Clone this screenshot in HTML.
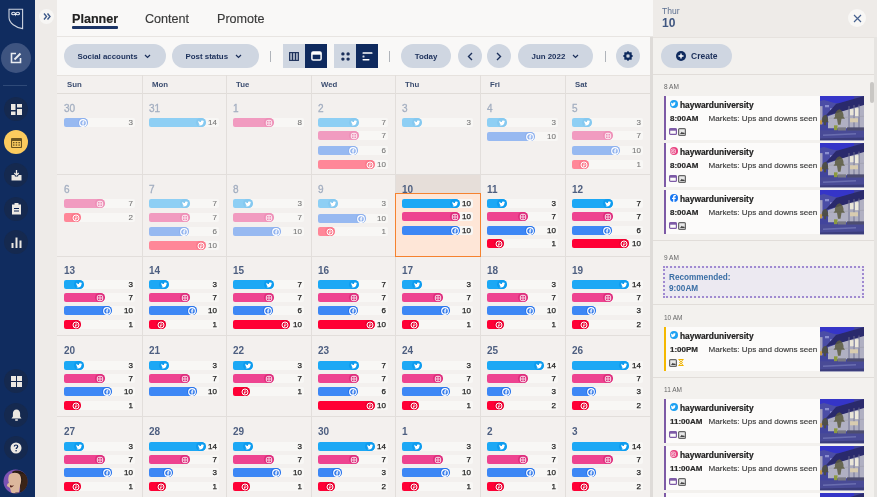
<!DOCTYPE html>
<html><head><meta charset="utf-8">
<style>
*{margin:0;padding:0;box-sizing:border-box}
html,body{width:877px;height:497px;overflow:hidden;background:#f3f0ee;font-family:"Liberation Sans",sans-serif}
.abs{position:absolute}
#side{position:absolute;left:0;top:0;width:35px;height:497px;background:#102c5f}
.sbtn{position:absolute;left:4px;width:24px;height:24px;border-radius:50%;background:#15294f;display:flex;align-items:center;justify-content:center}
#strip{position:absolute;left:35px;top:0;width:22px;height:497px;background:#eeebe8}
#hdr{position:absolute;left:57px;top:0;width:596px;height:37px;background:#f9f8f7;border-bottom:1px solid #e8e5e2}
.tab{position:absolute;top:12px;font-size:12.6px;color:#3a3a3a;letter-spacing:0;-webkit-text-stroke:0.15px currentColor}
#tb{position:absolute;left:57px;top:37px;width:593px;height:38px;background:#f9f8f7}
.pill{position:absolute;top:44px;height:24px;border-radius:12px;background:#cfd6e1;color:#1b2f5a;font-weight:bold;font-size:7.9px;display:flex;align-items:center;justify-content:center}
.sep{position:absolute;top:51px;width:1px;height:11px;background:#b0b4ba}
.tg{position:absolute;top:44px;width:22px;height:24px;background:#cfd6e1;display:flex;align-items:center;justify-content:center}
.tg.on{background:#0f2a5e}
#days{position:absolute;left:57px;top:75px;width:593px;height:19px;background:#f3f0ee;border-top:1px solid #e6e2de;border-bottom:1px solid #e0dcd8}
.dh{position:absolute;top:3.5px;font-size:7.8px;font-weight:bold;color:#3b4d70}
#grid{position:absolute;left:0;top:0}
.vl{position:absolute;top:75px;width:1px;height:422px;background:#e2dedb}
.hl{position:absolute;left:57px;width:593px;height:1px;background:#e2dedb}
.dn{position:absolute;font-size:10px;font-weight:bold;color:#4e5f80;line-height:10px}
.dn.past{color:#a3aec0;font-weight:normal;-webkit-text-stroke:0.3px currentColor}
.trk{position:absolute;height:9px;border-radius:2px;background:#f8f7f5}
.bar{position:absolute;height:9px;border-radius:2px 4.5px 4.5px 2px;overflow:hidden}
.bi{position:absolute;right:0;top:0;width:10px;height:9px;border-radius:5px;display:flex;align-items:center;justify-content:center}
.bi svg{display:block}
.cnt{position:absolute;text-align:right;font-size:8px;line-height:9px;color:#222;-webkit-text-stroke:0.25px currentColor}
.cnt.past{color:#777;-webkit-text-stroke:0.1px currentColor}
#pdiv{position:absolute;left:650px;top:37px;width:3px;height:460px;background:#dedbd8}
#panel{position:absolute;left:653px;top:0;width:224px;height:497px;background:#f3f1ee}
#phdr{position:absolute;left:653px;top:0;width:224px;height:37px;background:#eeebe8}
.line{position:absolute;height:1px;background:#e1ddd9}
.tlab{position:absolute;left:664px;font-size:6.5px;color:#666;line-height:8px}
.card{position:absolute;left:664px;width:200px;height:44px;background:#fcfbfa;border-left:2px solid #7d5aa6}
.card .nm{position:absolute;left:14px;top:3.5px;font-size:8.4px;font-weight:bold;color:#222;-webkit-text-stroke:0.2px #222}
.card .ci{position:absolute;left:3.5px;top:4.2px;width:8px;height:8px;border-radius:50%}
.card .tm{position:absolute;left:4px;top:18px;font-size:8px;font-weight:bold;color:#2a2a2a;-webkit-text-stroke:0.2px #2a2a2a}
.card .tx{position:absolute;left:41.5px;top:18px;font-size:8.1px;color:#3a3a3a;-webkit-text-stroke:0.15px #3a3a3a}
.card .im{position:absolute;right:0;top:0;width:44px;height:44.5px}
</style></head><body><div id="root" style="position:absolute;left:0;top:0;width:877px;height:497px;overflow:hidden;will-change:transform">
<svg width="0" height="0" style="position:absolute"><defs>
<symbol id="photo" viewBox="0 0 44 44">
<filter id="bl"><feGaussianBlur stdDeviation="0.55"/></filter>
<g filter="url(#bl)">
<rect width="44" height="44" fill="#42449c"/>
<rect width="34" height="7" fill="#3436c8"/>
<path d="M0 5L4 4 18 8 18 20 0 24z" fill="#4c4ea6"/>
<path d="M5 9h4v2H5zM10 12h4v2h-4z" fill="#8a8ed0"/>
<path d="M0 10h2.5v18H0z" fill="#a8a4c0"/>
<path d="M8 20L44 7 44 32 8 32z" fill="#b0b0c2"/>
<path d="M5 20L16 8 44 0 44 9z" fill="#2c2a6c"/>
<path d="M29 10v22M34 9v23M39 8.5v23.5" stroke="#6e7090" stroke-width="0.9"/>
<path d="M9 22L44 20" stroke="#9c9caa" stroke-width="0.6"/>
<rect x="30" y="13" width="3.5" height="6" fill="#eae6d8"/>
<rect x="35" y="12" width="3.5" height="8" fill="#eeeadc"/>
<rect x="30" y="22" width="8" height="4" fill="#d8ccb0"/>
<path d="M19.5 13c-3 1-5 4-4.5 7.5l-1.5 2 3.5 0 1 6h2.5l1-6 3.5 0-1.5-2c.5-3.500-1.500-6.500-4-7.500z" fill="#5a5a40" opacity=".85"/>
<path d="M5.5 18.5c-3 1-4 4-3.500 6.500l-1 1 3 0v3h2v-3l3 0-1-1c.5-2.500-.5-5.500-2.500-6.500z" fill="#50503a" opacity=".85"/>
<rect x="0" y="24" width="2" height="4" fill="#c49a48"/>
<rect x="14" y="29" width="3.5" height="5" fill="#8c9a40"/>
<rect x="18" y="31" width="8" height="5" fill="#7a7a84"/>
<rect x="27" y="31" width="17" height="5" fill="#4e4e70"/>
<path d="M0 34L44 34 44 44 0 44z" fill="#4a4c96"/>
<path d="M3 38L36 36.5 36 38 3 39.5z" fill="#6a6eb0"/>
<path d="M0 42L44 41 44 44 0 44z" fill="#3a3c7c"/>
</g>
</symbol></defs></svg>
<div id="side">
  <svg class="abs" style="left:0;top:0" width="35" height="35" viewBox="0 0 35 35"><path d="M9 9.2H22.6V28.6C15.5 27.5 9.2 23 9 17.5Z" fill="none" stroke="#cdd3df" stroke-width="1.1"/><path d="M15.6 13.6c-1-1.6-3.8-1.8-3.9 0 .1 1.7 2.9 1.5 3.9 0zM15.6 13.6c1-1.6 3.8-1.8 3.9 0-.1 1.7-2.9 1.5-3.9 0z" fill="none" stroke="#e4e8f0" stroke-width="1.1"/><path d="M14.7 13.8h1.8l-.9 2.6z" fill="#f0f2f6"/></svg>
  <div class="abs" style="left:1px;top:43px;width:30px;height:30px;border-radius:50%;background:#3e5480"></div>
  <svg class="abs" style="left:10px;top:52px" width="12" height="12" viewBox="0 0 12 12"><path d="M6 1.5H1.5v9h9V6" fill="none" stroke="#e8ebf0" stroke-width="1.6"/><path d="M4.5 7.5L10.5 1.5" stroke="#e8ebf0" stroke-width="2"/></svg>
  <div class="abs" style="left:3px;top:85px;width:24px;height:1px;background:#2f4a78"></div>
  <div class="sbtn" style="top:97px"><svg width="11" height="11" viewBox="0 0 11 11"><rect x="0" y="0" width="4.5" height="6" fill="#ece8e2"/><rect x="6" y="0" width="5" height="3.5" fill="#ece8e2"/><rect x="0" y="7.5" width="4.5" height="3.5" fill="#ece8e2"/><rect x="6" y="5" width="5" height="6" fill="#ece8e2"/></svg></div>
  <div class="sbtn" style="top:130px;background:#fccb5e"><svg width="11" height="11" viewBox="0 0 11 11"><rect x="0.5" y="1.5" width="10" height="9" rx="1" fill="none" stroke="#6a5320" stroke-width="1.2"/><rect x="0.5" y="1.5" width="10" height="2.5" fill="#6a5320"/><g fill="#6a5320"><rect x="2" y="5" width="1.5" height="1.3"/><rect x="4.7" y="5" width="1.5" height="1.3"/><rect x="7.4" y="5" width="1.5" height="1.3"/><rect x="2" y="7.4" width="1.5" height="1.3"/><rect x="4.7" y="7.4" width="1.5" height="1.3"/><rect x="7.4" y="7.4" width="1.5" height="1.3"/></g></svg></div>
  <div class="sbtn" style="top:163px"><svg width="11" height="11" viewBox="0 0 11 11"><path d="M0.5 5v5.5h10V5h-3l-.5 1.5h-3L3.5 5z" fill="#ece8e2"/><path d="M5.5 0v5M3.3 3l2.2 2.2L7.7 3" fill="none" stroke="#ece8e2" stroke-width="1.3"/></svg></div>
  <div class="sbtn" style="top:197px"><svg width="11" height="12" viewBox="0 0 11 12"><rect x="1" y="1.5" width="9" height="10" fill="#ece8e2"/><rect x="3.5" y="0" width="4" height="2.5" fill="#ece8e2"/><rect x="3" y="5" width="5" height="1" fill="#0a2253"/><rect x="3" y="7.5" width="5" height="1" fill="#0a2253"/></svg></div>
  <div class="sbtn" style="top:230px"><svg width="11" height="11" viewBox="0 0 11 11"><rect x="0.5" y="6" width="2" height="5" fill="#ece8e2"/><rect x="4.5" y="0.5" width="2" height="10.5" fill="#ece8e2"/><rect x="8.5" y="3.5" width="2" height="7.5" fill="#ece8e2"/></svg></div>
  <div class="sbtn" style="top:369px"><svg width="11" height="11" viewBox="0 0 11 11"><rect x="0" y="0" width="5" height="5" fill="#ece8e2"/><rect x="6" y="0" width="5" height="5" fill="#ece8e2"/><rect x="0" y="6" width="5" height="5" fill="#ece8e2"/><rect x="6" y="6" width="5" height="5" fill="#ece8e2"/></svg></div>
  <div class="sbtn" style="top:403px"><svg width="11" height="12" viewBox="0 0 11 12"><path d="M5.5 0.5c-2.3 0-3.6 1.8-3.6 4v3L.5 9.5h10L9.1 7.5v-3c0-2.2-1.3-4-3.6-4z" fill="#ece8e2"/><rect x="4" y="10.3" width="3" height="1.5" rx=".7" fill="#ece8e2"/></svg></div>
  <div class="sbtn" style="top:436px"><svg width="12" height="12" viewBox="0 0 12 12"><circle cx="6" cy="6" r="5.5" fill="#ece8e2"/><path d="M4.3 4.6c0-1 .8-1.6 1.7-1.6s1.7.6 1.7 1.5c0 1.2-1.5 1.2-1.5 2.5" fill="none" stroke="#0a2253" stroke-width="1.2"/><circle cx="6.1" cy="8.8" r=".8" fill="#0a2253"/></svg></div>
  <svg class="abs" style="left:3px;top:469px" width="25" height="25" viewBox="0 0 25 25"><defs><clipPath id="av"><circle cx="12.5" cy="12.5" r="12"/></clipPath></defs><g clip-path="url(#av)"><rect width="25" height="25" fill="#7c52b4"/><path d="M9 3C14 0 22 2 25 8V25H16c1-3 2-5 1-8z" fill="#2a1c14"/><path d="M6 6c3-3 9-3 11 0 2 4 1 8 0 11l-1 6c-2 2-6 2-8 0l-1-4-3-2c0-2 1-3 2-3-1-2-1-5 0-8z" fill="#dcb79c"/><path d="M7 16c1 1 3 1 4 0-1 2-3 3-4 2z" fill="#5a2820"/><path d="M17 6c2 1 3 4 2 7-1 2-2 4-2 6l3 6h5V10C24 6 21 4 17 5z" fill="#3a2418"/><path d="M10 25c2-2 6-2 8 0z" fill="#3a2a4a"/></g></svg>
</div>
<div id="strip">
  <div class="abs" style="left:4px;top:9px;width:15px;height:15px;border-radius:50%;background:#f7f6f4;display:flex;align-items:center;justify-content:center"><svg width="8" height="7" viewBox="0 0 8 7"><path d="M1 .5L3.5 3.5 1 6.5M4.5 .5L7 3.5 4.5 6.5" fill="none" stroke="#3d5a8a" stroke-width="1.4"/></svg></div>
</div>
<div id="hdr">
  <div class="tab" style="left:15px;font-weight:bold;color:#222">Planner</div>
  <div class="abs" style="left:15px;top:26px;width:46px;height:2.5px;background:#1b3466;border-radius:1px"></div>
  <div class="tab" style="left:88px">Content</div>
  <div class="tab" style="left:160px">Promote</div>
</div>
<div id="tb"></div>
<div class="pill" style="left:64px;width:102px;justify-content:flex-start;padding-left:13.5px">Social accounts&nbsp;&nbsp;&nbsp;<svg width="7" height="5" viewBox="0 0 7 5"><path d="M1 1l2.5 2.5L6 1" fill="none" stroke="#1b2f5a" stroke-width="1.2"/></svg></div>
<div class="pill" style="left:172px;width:87px;justify-content:flex-start;padding-left:13.5px">Post status&nbsp;&nbsp;&nbsp;<svg width="7" height="5" viewBox="0 0 7 5"><path d="M1 1l2.5 2.5L6 1" fill="none" stroke="#1b2f5a" stroke-width="1.2"/></svg></div>
<div class="sep" style="left:270px"></div>
<div class="tg" style="left:283px;border-radius:0"><svg width="10" height="9" viewBox="0 0 10 9"><rect x=".6" y=".6" width="8.8" height="7.8" fill="none" stroke="#1b2f5a" stroke-width="1.1"/><path d="M3.5 .6v7.8M6.5 .6v7.8" stroke="#1b2f5a" stroke-width="1"/><rect x="1" y="1" width="8" height="7" fill="#1b2f5a" opacity=".25"/></svg></div>
<div class="tg on" style="left:305px"><svg width="11" height="10" viewBox="0 0 11 10"><rect x=".9" y=".9" width="9.2" height="8.2" rx="1.3" fill="none" stroke="#fff" stroke-width="1.5"/><rect x=".9" y=".9" width="9.2" height="2.8" fill="#fff"/></svg></div>
<div class="tg" style="left:334px"><svg width="9" height="9" viewBox="0 0 9 9"><g fill="#1b2f5a"><circle cx="1.9" cy="1.9" r="1.7"/><circle cx="7.1" cy="1.9" r="1.7"/><circle cx="1.9" cy="7.1" r="1.7"/><circle cx="7.1" cy="7.1" r="1.7"/></g></svg></div>
<div class="tg on" style="left:356px"><svg width="11" height="9" viewBox="0 0 11 9"><g fill="#fff"><rect x="0.5" y="0.3" width="10" height="1.5" rx=".6"/><rect x="0.5" y="3.5" width="2" height="2" rx=".5" opacity=".8"/><rect x="0.5" y="6.9" width="7" height="1.5" rx=".6"/></g></svg></div>
<div class="sep" style="left:389px"></div>
<div class="pill" style="left:401px;width:50px">Today</div>
<div class="pill" style="left:458px;width:24px"><svg width="6" height="9" viewBox="0 0 6 9"><path d="M5 1L1.5 4.5 5 8" fill="none" stroke="#1b2f5a" stroke-width="1.4"/></svg></div>
<div class="pill" style="left:487px;width:24px"><svg width="6" height="9" viewBox="0 0 6 9"><path d="M1 1l3.5 3.5L1 8" fill="none" stroke="#1b2f5a" stroke-width="1.4"/></svg></div>
<div class="pill" style="left:518px;width:75px;justify-content:flex-start;padding-left:13.5px">Jun 2022&nbsp;&nbsp;&nbsp;<svg width="7" height="5" viewBox="0 0 7 5"><path d="M1 1l2.5 2.5L6 1" fill="none" stroke="#1b2f5a" stroke-width="1.2"/></svg></div>
<div class="sep" style="left:605px"></div>
<div class="pill" style="left:616px;width:24px"><svg width="12" height="12" viewBox="0 0 24 24"><path fill="#0f2a5e" fill-rule="evenodd" stroke="#0f2a5e" stroke-width="1" stroke-linejoin="round" d="M12.00 2.40L14.83 5.16L18.79 5.21L18.84 9.17L21.60 12.00L18.84 14.83L18.79 18.79L14.83 18.84L12.00 21.60L9.17 18.84L5.21 18.79L5.16 14.83L2.40 12.00L5.16 9.17L5.21 5.21L9.17 5.16Z M12 8a4 4 0 1 0 0 8a4 4 0 1 0 0-8z"/></svg></div>
<div id="days">
  <div class="dh" style="left:10px">Sun</div>
  <div class="dh" style="left:95px">Mon</div>
  <div class="dh" style="left:179px">Tue</div>
  <div class="dh" style="left:264px">Wed</div>
  <div class="dh" style="left:348px">Thu</div>
  <div class="dh" style="left:433px">Fri</div>
  <div class="dh" style="left:518px">Sat</div>
</div>
<div id="grid">
<div class="vl" style="left:142px"></div>
<div class="vl" style="left:226px"></div>
<div class="vl" style="left:311px"></div>
<div class="vl" style="left:395px"></div>
<div class="vl" style="left:480px"></div>
<div class="vl" style="left:565px"></div>
<div class="hl" style="top:174px"></div>
<div class="hl" style="top:256px"></div>
<div class="hl" style="top:335px"></div>
<div class="hl" style="top:416px"></div>
<div class="dn past" style="left:64px;top:103.6px">30</div>
<div class="trk" style="left:64px;top:118px;width:71px"></div>
<div class="bar" style="left:64px;top:118px;width:24px;background:#97b9f1"><span class="bi" style="background:#8db0ee"><svg width="8" height="8" viewBox="0 0 24 24"><circle cx="12" cy="12" r="10" fill="none" stroke="#fff" stroke-width="3.4"/><path d="M13.6 21V13.4h2.4l.4-2.8h-2.8V8.9c0-.8.3-1.4 1.4-1.4h1.5V5c-.3 0-1.2-.1-2.2-.1-2.200 0-3.600 1.300-3.600 3.700v2H8.300v2.800h2.400V21z" fill="#fff"/></svg></span></div>
<div class="cnt past" style="left:64px;top:118px;width:69px">3</div>
<div class="dn past" style="left:149px;top:103.6px">31</div>
<div class="trk" style="left:149px;top:118px;width:70px"></div>
<div class="bar" style="left:149px;top:118px;width:57px;background:#8ecff4"><span class="bi" style="background:#86c9f0"><svg width="8" height="8" viewBox="-3 -3 30 30"><path d="M23.6 4.9c-.8.4-1.7.6-2.7.7 1-.6 1.7-1.5 2-2.6-.9.5-1.9.9-3 1.1-.9-.9-2.1-1.5-3.4-1.5-2.6 0-4.7 2.1-4.7 4.7 0 .4 0 .7.1 1.1C8.1 8.2 4.7 6.3 2.4 3.5c-.4.7-.6 1.5-.6 2.3 0 1.6.8 3 2.1 3.9-.8 0-1.5-.2-2.1-.6v.1c0 2.3 1.6 4.1 3.7 4.6-.4.1-.8.2-1.2.2-.3 0-.6 0-.9-.1.6 1.8 2.3 3.2 4.4 3.2-1.6 1.3-3.6 2-5.8 2-.4 0-.7 0-1.1-.1 2.1 1.3 4.5 2.1 7.1 2.1 8.6 0 13.3-7.1 13.3-13.3v-.6c.9-.7 1.7-1.5 2.3-2.4z" fill="#fff"/></svg></span></div>
<div class="cnt past" style="left:149px;top:118px;width:68px">14</div>
<div class="dn past" style="left:233px;top:103.6px">1</div>
<div class="trk" style="left:233px;top:118px;width:71px"></div>
<div class="bar" style="left:233px;top:118px;width:41px;background:#f19bc0"><span class="bi" style="background:#ee8fb7"><svg width="8" height="8" viewBox="0 0 24 24"><rect x="4" y="4" width="16" height="16" rx="4.5" fill="none" stroke="#fff" stroke-width="2.6"/><circle cx="12" cy="12" r="3.6" fill="none" stroke="#fff" stroke-width="2.4"/></svg></span></div>
<div class="cnt past" style="left:233px;top:118px;width:69px">8</div>
<div class="dn past" style="left:318px;top:103.6px">2</div>
<div class="trk" style="left:318px;top:118px;width:70px"></div>
<div class="bar" style="left:318px;top:118px;width:41px;background:#8ecff4"><span class="bi" style="background:#86c9f0"><svg width="8" height="8" viewBox="-3 -3 30 30"><path d="M23.6 4.9c-.8.4-1.7.6-2.7.7 1-.6 1.7-1.5 2-2.6-.9.5-1.9.9-3 1.1-.9-.9-2.1-1.5-3.4-1.5-2.6 0-4.7 2.1-4.7 4.7 0 .4 0 .7.1 1.1C8.1 8.2 4.7 6.3 2.4 3.5c-.4.7-.6 1.5-.6 2.3 0 1.6.8 3 2.1 3.9-.8 0-1.5-.2-2.1-.6v.1c0 2.3 1.6 4.1 3.7 4.6-.4.1-.8.2-1.2.2-.3 0-.6 0-.9-.1.6 1.8 2.3 3.2 4.4 3.2-1.6 1.3-3.6 2-5.8 2-.4 0-.7 0-1.1-.1 2.1 1.3 4.5 2.1 7.1 2.1 8.6 0 13.3-7.1 13.3-13.3v-.6c.9-.7 1.7-1.5 2.3-2.4z" fill="#fff"/></svg></span></div>
<div class="cnt past" style="left:318px;top:118px;width:68px">7</div>
<div class="trk" style="left:318px;top:131px;width:70px"></div>
<div class="bar" style="left:318px;top:131px;width:41px;background:#f19bc0"><span class="bi" style="background:#ee8fb7"><svg width="8" height="8" viewBox="0 0 24 24"><rect x="4" y="4" width="16" height="16" rx="4.5" fill="none" stroke="#fff" stroke-width="2.6"/><circle cx="12" cy="12" r="3.6" fill="none" stroke="#fff" stroke-width="2.4"/></svg></span></div>
<div class="cnt past" style="left:318px;top:131px;width:68px">7</div>
<div class="trk" style="left:318px;top:146px;width:70px"></div>
<div class="bar" style="left:318px;top:146px;width:40px;background:#97b9f1"><span class="bi" style="background:#8db0ee"><svg width="8" height="8" viewBox="0 0 24 24"><circle cx="12" cy="12" r="10" fill="none" stroke="#fff" stroke-width="3.4"/><path d="M13.6 21V13.4h2.4l.4-2.8h-2.8V8.9c0-.8.3-1.4 1.4-1.4h1.5V5c-.3 0-1.2-.1-2.2-.1-2.200 0-3.600 1.300-3.600 3.700v2H8.300v2.800h2.400V21z" fill="#fff"/></svg></span></div>
<div class="cnt past" style="left:318px;top:146px;width:68px">6</div>
<div class="trk" style="left:318px;top:160px;width:70px"></div>
<div class="bar" style="left:318px;top:160px;width:57px;background:#ff8798"><span class="bi" style="background:#fb7a8c"><svg width="8" height="8" viewBox="0 0 24 24"><circle cx="12" cy="12" r="9" fill="none" stroke="#fff" stroke-width="3"/><path d="M10.5 8.5c3-.8 5 .6 5 2.600 0 2.300-2 3.600-4 2.800M11.3 10.5l-2 8" fill="none" stroke="#fff" stroke-width="2.4"/></svg></span></div>
<div class="cnt past" style="left:318px;top:160px;width:68px">10</div>
<div class="dn past" style="left:402px;top:103.6px">3</div>
<div class="trk" style="left:402px;top:118px;width:71px"></div>
<div class="bar" style="left:402px;top:118px;width:20px;background:#8ecff4"><span class="bi" style="background:#86c9f0"><svg width="8" height="8" viewBox="-3 -3 30 30"><path d="M23.6 4.9c-.8.4-1.7.6-2.7.7 1-.6 1.7-1.5 2-2.6-.9.5-1.9.9-3 1.1-.9-.9-2.1-1.5-3.4-1.5-2.6 0-4.7 2.1-4.7 4.7 0 .4 0 .7.1 1.1C8.1 8.2 4.7 6.3 2.4 3.5c-.4.7-.6 1.5-.6 2.3 0 1.6.8 3 2.1 3.9-.8 0-1.5-.2-2.1-.6v.1c0 2.3 1.6 4.1 3.7 4.6-.4.1-.8.2-1.2.2-.3 0-.6 0-.9-.1.6 1.8 2.3 3.2 4.4 3.2-1.6 1.3-3.6 2-5.8 2-.4 0-.7 0-1.1-.1 2.1 1.3 4.5 2.1 7.1 2.1 8.6 0 13.3-7.1 13.3-13.3v-.6c.9-.7 1.7-1.5 2.3-2.4z" fill="#fff"/></svg></span></div>
<div class="cnt past" style="left:402px;top:118px;width:69px">3</div>
<div class="dn past" style="left:487px;top:103.6px">4</div>
<div class="trk" style="left:487px;top:118px;width:71px"></div>
<div class="bar" style="left:487px;top:118px;width:20px;background:#8ecff4"><span class="bi" style="background:#86c9f0"><svg width="8" height="8" viewBox="-3 -3 30 30"><path d="M23.6 4.9c-.8.4-1.7.6-2.7.7 1-.6 1.7-1.5 2-2.6-.9.5-1.9.9-3 1.1-.9-.9-2.1-1.5-3.4-1.5-2.6 0-4.7 2.1-4.7 4.7 0 .4 0 .7.1 1.1C8.1 8.2 4.7 6.3 2.4 3.5c-.4.7-.6 1.5-.6 2.3 0 1.6.8 3 2.1 3.9-.8 0-1.5-.2-2.1-.6v.1c0 2.3 1.6 4.1 3.7 4.6-.4.1-.8.2-1.2.2-.3 0-.6 0-.9-.1.6 1.8 2.3 3.2 4.4 3.2-1.6 1.3-3.6 2-5.8 2-.4 0-.7 0-1.1-.1 2.1 1.3 4.5 2.1 7.1 2.1 8.6 0 13.3-7.1 13.3-13.3v-.6c.9-.7 1.7-1.5 2.3-2.4z" fill="#fff"/></svg></span></div>
<div class="cnt past" style="left:487px;top:118px;width:69px">3</div>
<div class="trk" style="left:487px;top:132px;width:71px"></div>
<div class="bar" style="left:487px;top:132px;width:48px;background:#97b9f1"><span class="bi" style="background:#8db0ee"><svg width="8" height="8" viewBox="0 0 24 24"><circle cx="12" cy="12" r="10" fill="none" stroke="#fff" stroke-width="3.4"/><path d="M13.6 21V13.4h2.4l.4-2.8h-2.8V8.9c0-.8.3-1.4 1.4-1.4h1.5V5c-.3 0-1.2-.1-2.2-.1-2.200 0-3.600 1.300-3.600 3.700v2H8.300v2.800h2.400V21z" fill="#fff"/></svg></span></div>
<div class="cnt past" style="left:487px;top:132px;width:69px">10</div>
<div class="dn past" style="left:572px;top:103.6px">5</div>
<div class="trk" style="left:572px;top:118px;width:71px"></div>
<div class="bar" style="left:572px;top:118px;width:20px;background:#8ecff4"><span class="bi" style="background:#86c9f0"><svg width="8" height="8" viewBox="-3 -3 30 30"><path d="M23.6 4.9c-.8.4-1.7.6-2.7.7 1-.6 1.7-1.5 2-2.6-.9.5-1.9.9-3 1.1-.9-.9-2.1-1.5-3.4-1.5-2.6 0-4.7 2.1-4.7 4.7 0 .4 0 .7.1 1.1C8.1 8.2 4.7 6.3 2.4 3.5c-.4.7-.6 1.5-.6 2.3 0 1.6.8 3 2.1 3.9-.8 0-1.5-.2-2.1-.6v.1c0 2.3 1.6 4.1 3.7 4.6-.4.1-.8.2-1.2.2-.3 0-.6 0-.9-.1.6 1.8 2.3 3.2 4.4 3.2-1.6 1.3-3.6 2-5.8 2-.4 0-.7 0-1.1-.1 2.1 1.3 4.5 2.1 7.1 2.1 8.6 0 13.3-7.1 13.3-13.3v-.6c.9-.7 1.7-1.5 2.3-2.4z" fill="#fff"/></svg></span></div>
<div class="cnt past" style="left:572px;top:118px;width:69px">3</div>
<div class="trk" style="left:572px;top:131px;width:71px"></div>
<div class="bar" style="left:572px;top:131px;width:41px;background:#f19bc0"><span class="bi" style="background:#ee8fb7"><svg width="8" height="8" viewBox="0 0 24 24"><rect x="4" y="4" width="16" height="16" rx="4.5" fill="none" stroke="#fff" stroke-width="2.6"/><circle cx="12" cy="12" r="3.6" fill="none" stroke="#fff" stroke-width="2.4"/></svg></span></div>
<div class="cnt past" style="left:572px;top:131px;width:69px">7</div>
<div class="trk" style="left:572px;top:146px;width:71px"></div>
<div class="bar" style="left:572px;top:146px;width:48px;background:#97b9f1"><span class="bi" style="background:#8db0ee"><svg width="8" height="8" viewBox="0 0 24 24"><circle cx="12" cy="12" r="10" fill="none" stroke="#fff" stroke-width="3.4"/><path d="M13.6 21V13.4h2.4l.4-2.8h-2.8V8.9c0-.8.3-1.4 1.4-1.4h1.5V5c-.3 0-1.2-.1-2.2-.1-2.200 0-3.600 1.300-3.600 3.700v2H8.300v2.800h2.400V21z" fill="#fff"/></svg></span></div>
<div class="cnt past" style="left:572px;top:146px;width:69px">10</div>
<div class="trk" style="left:572px;top:160px;width:71px"></div>
<div class="bar" style="left:572px;top:160px;width:17px;background:#ff8798"><span class="bi" style="background:#fb7a8c"><svg width="8" height="8" viewBox="0 0 24 24"><circle cx="12" cy="12" r="9" fill="none" stroke="#fff" stroke-width="3"/><path d="M10.5 8.5c3-.8 5 .6 5 2.600 0 2.300-2 3.600-4 2.800M11.3 10.5l-2 8" fill="none" stroke="#fff" stroke-width="2.4"/></svg></span></div>
<div class="cnt past" style="left:572px;top:160px;width:69px">1</div>
<div class="dn past" style="left:64px;top:184.6px">6</div>
<div class="trk" style="left:64px;top:199px;width:71px"></div>
<div class="bar" style="left:64px;top:199px;width:41px;background:#f19bc0"><span class="bi" style="background:#ee8fb7"><svg width="8" height="8" viewBox="0 0 24 24"><rect x="4" y="4" width="16" height="16" rx="4.5" fill="none" stroke="#fff" stroke-width="2.6"/><circle cx="12" cy="12" r="3.6" fill="none" stroke="#fff" stroke-width="2.4"/></svg></span></div>
<div class="cnt past" style="left:64px;top:199px;width:69px">7</div>
<div class="trk" style="left:64px;top:213px;width:71px"></div>
<div class="bar" style="left:64px;top:213px;width:17px;background:#ff8798"><span class="bi" style="background:#fb7a8c"><svg width="8" height="8" viewBox="0 0 24 24"><circle cx="12" cy="12" r="9" fill="none" stroke="#fff" stroke-width="3"/><path d="M10.5 8.5c3-.8 5 .6 5 2.600 0 2.300-2 3.600-4 2.800M11.3 10.5l-2 8" fill="none" stroke="#fff" stroke-width="2.4"/></svg></span></div>
<div class="cnt past" style="left:64px;top:213px;width:69px">2</div>
<div class="dn past" style="left:149px;top:184.6px">7</div>
<div class="trk" style="left:149px;top:199px;width:70px"></div>
<div class="bar" style="left:149px;top:199px;width:41px;background:#8ecff4"><span class="bi" style="background:#86c9f0"><svg width="8" height="8" viewBox="-3 -3 30 30"><path d="M23.6 4.9c-.8.4-1.7.6-2.7.7 1-.6 1.7-1.5 2-2.6-.9.5-1.9.9-3 1.1-.9-.9-2.1-1.5-3.4-1.5-2.6 0-4.7 2.1-4.7 4.7 0 .4 0 .7.1 1.1C8.1 8.2 4.7 6.3 2.4 3.5c-.4.7-.6 1.5-.6 2.3 0 1.6.8 3 2.1 3.9-.8 0-1.5-.2-2.1-.6v.1c0 2.3 1.6 4.1 3.7 4.6-.4.1-.8.2-1.2.2-.3 0-.6 0-.9-.1.6 1.8 2.3 3.2 4.4 3.2-1.6 1.3-3.6 2-5.8 2-.4 0-.7 0-1.1-.1 2.1 1.3 4.5 2.1 7.1 2.1 8.6 0 13.3-7.1 13.3-13.3v-.6c.9-.7 1.7-1.5 2.3-2.4z" fill="#fff"/></svg></span></div>
<div class="cnt past" style="left:149px;top:199px;width:68px">7</div>
<div class="trk" style="left:149px;top:213px;width:70px"></div>
<div class="bar" style="left:149px;top:213px;width:41px;background:#f19bc0"><span class="bi" style="background:#ee8fb7"><svg width="8" height="8" viewBox="0 0 24 24"><rect x="4" y="4" width="16" height="16" rx="4.5" fill="none" stroke="#fff" stroke-width="2.6"/><circle cx="12" cy="12" r="3.6" fill="none" stroke="#fff" stroke-width="2.4"/></svg></span></div>
<div class="cnt past" style="left:149px;top:213px;width:68px">7</div>
<div class="trk" style="left:149px;top:227px;width:70px"></div>
<div class="bar" style="left:149px;top:227px;width:40px;background:#97b9f1"><span class="bi" style="background:#8db0ee"><svg width="8" height="8" viewBox="0 0 24 24"><circle cx="12" cy="12" r="10" fill="none" stroke="#fff" stroke-width="3.4"/><path d="M13.6 21V13.4h2.4l.4-2.8h-2.8V8.9c0-.8.3-1.4 1.4-1.4h1.5V5c-.3 0-1.2-.1-2.2-.1-2.200 0-3.600 1.300-3.600 3.700v2H8.300v2.800h2.400V21z" fill="#fff"/></svg></span></div>
<div class="cnt past" style="left:149px;top:227px;width:68px">6</div>
<div class="trk" style="left:149px;top:241px;width:70px"></div>
<div class="bar" style="left:149px;top:241px;width:57px;background:#ff8798"><span class="bi" style="background:#fb7a8c"><svg width="8" height="8" viewBox="0 0 24 24"><circle cx="12" cy="12" r="9" fill="none" stroke="#fff" stroke-width="3"/><path d="M10.5 8.5c3-.8 5 .6 5 2.600 0 2.300-2 3.600-4 2.800M11.3 10.5l-2 8" fill="none" stroke="#fff" stroke-width="2.4"/></svg></span></div>
<div class="cnt past" style="left:149px;top:241px;width:68px">10</div>
<div class="dn past" style="left:233px;top:184.6px">8</div>
<div class="trk" style="left:233px;top:199px;width:71px"></div>
<div class="bar" style="left:233px;top:199px;width:20px;background:#8ecff4"><span class="bi" style="background:#86c9f0"><svg width="8" height="8" viewBox="-3 -3 30 30"><path d="M23.6 4.9c-.8.4-1.7.6-2.7.7 1-.6 1.7-1.5 2-2.6-.9.5-1.9.9-3 1.1-.9-.9-2.1-1.5-3.4-1.5-2.6 0-4.7 2.1-4.7 4.7 0 .4 0 .7.1 1.1C8.1 8.2 4.7 6.3 2.4 3.5c-.4.7-.6 1.5-.6 2.3 0 1.6.8 3 2.1 3.9-.8 0-1.5-.2-2.1-.6v.1c0 2.3 1.6 4.1 3.7 4.6-.4.1-.8.2-1.2.2-.3 0-.6 0-.9-.1.6 1.8 2.3 3.2 4.4 3.2-1.6 1.3-3.6 2-5.8 2-.4 0-.7 0-1.1-.1 2.1 1.3 4.5 2.1 7.1 2.1 8.6 0 13.3-7.1 13.3-13.3v-.6c.9-.7 1.7-1.5 2.3-2.4z" fill="#fff"/></svg></span></div>
<div class="cnt past" style="left:233px;top:199px;width:69px">3</div>
<div class="trk" style="left:233px;top:213px;width:71px"></div>
<div class="bar" style="left:233px;top:213px;width:41px;background:#f19bc0"><span class="bi" style="background:#ee8fb7"><svg width="8" height="8" viewBox="0 0 24 24"><rect x="4" y="4" width="16" height="16" rx="4.5" fill="none" stroke="#fff" stroke-width="2.6"/><circle cx="12" cy="12" r="3.6" fill="none" stroke="#fff" stroke-width="2.4"/></svg></span></div>
<div class="cnt past" style="left:233px;top:213px;width:69px">7</div>
<div class="trk" style="left:233px;top:227px;width:71px"></div>
<div class="bar" style="left:233px;top:227px;width:48px;background:#97b9f1"><span class="bi" style="background:#8db0ee"><svg width="8" height="8" viewBox="0 0 24 24"><circle cx="12" cy="12" r="10" fill="none" stroke="#fff" stroke-width="3.4"/><path d="M13.6 21V13.4h2.4l.4-2.8h-2.8V8.9c0-.8.3-1.4 1.4-1.4h1.5V5c-.3 0-1.2-.1-2.2-.1-2.200 0-3.600 1.300-3.600 3.700v2H8.300v2.800h2.400V21z" fill="#fff"/></svg></span></div>
<div class="cnt past" style="left:233px;top:227px;width:69px">10</div>
<div class="dn past" style="left:318px;top:184.6px">9</div>
<div class="trk" style="left:318px;top:199px;width:70px"></div>
<div class="bar" style="left:318px;top:199px;width:20px;background:#8ecff4"><span class="bi" style="background:#86c9f0"><svg width="8" height="8" viewBox="-3 -3 30 30"><path d="M23.6 4.9c-.8.4-1.7.6-2.7.7 1-.6 1.7-1.5 2-2.6-.9.5-1.9.9-3 1.1-.9-.9-2.1-1.5-3.4-1.5-2.6 0-4.7 2.1-4.7 4.7 0 .4 0 .7.1 1.1C8.1 8.2 4.7 6.3 2.4 3.5c-.4.7-.6 1.5-.6 2.3 0 1.6.8 3 2.1 3.9-.8 0-1.5-.2-2.1-.6v.1c0 2.3 1.6 4.1 3.7 4.6-.4.1-.8.2-1.2.2-.3 0-.6 0-.9-.1.6 1.8 2.3 3.2 4.4 3.2-1.6 1.3-3.6 2-5.8 2-.4 0-.7 0-1.1-.1 2.1 1.3 4.5 2.1 7.1 2.1 8.6 0 13.3-7.1 13.3-13.3v-.6c.9-.7 1.7-1.5 2.3-2.4z" fill="#fff"/></svg></span></div>
<div class="cnt past" style="left:318px;top:199px;width:68px">3</div>
<div class="trk" style="left:318px;top:214px;width:70px"></div>
<div class="bar" style="left:318px;top:214px;width:48px;background:#97b9f1"><span class="bi" style="background:#8db0ee"><svg width="8" height="8" viewBox="0 0 24 24"><circle cx="12" cy="12" r="10" fill="none" stroke="#fff" stroke-width="3.4"/><path d="M13.6 21V13.4h2.4l.4-2.8h-2.8V8.9c0-.8.3-1.4 1.4-1.4h1.5V5c-.3 0-1.2-.1-2.2-.1-2.200 0-3.600 1.300-3.600 3.700v2H8.300v2.800h2.400V21z" fill="#fff"/></svg></span></div>
<div class="cnt past" style="left:318px;top:214px;width:68px">10</div>
<div class="trk" style="left:318px;top:227px;width:70px"></div>
<div class="bar" style="left:318px;top:227px;width:17px;background:#ff8798"><span class="bi" style="background:#fb7a8c"><svg width="8" height="8" viewBox="0 0 24 24"><circle cx="12" cy="12" r="9" fill="none" stroke="#fff" stroke-width="3"/><path d="M10.5 8.5c3-.8 5 .6 5 2.600 0 2.300-2 3.600-4 2.800M11.3 10.5l-2 8" fill="none" stroke="#fff" stroke-width="2.4"/></svg></span></div>
<div class="cnt past" style="left:318px;top:227px;width:68px">1</div>
<div style="position:absolute;left:396px;top:175px;width:84px;height:18px;background:#e6ded9"></div>
<div style="position:absolute;left:395px;top:193px;width:86px;height:64px;background:#fee6d7;border:1px solid #f5822f;box-sizing:border-box"></div>
<div class="dn" style="left:402px;top:184.6px">10</div>
<div class="trk" style="left:402px;top:199px;width:71px"></div>
<div class="bar" style="left:402px;top:199px;width:58px;background:#1ca8f5"><span class="bi" style="background:#0e9cef"><svg width="8" height="8" viewBox="-3 -3 30 30"><path d="M23.6 4.9c-.8.4-1.7.6-2.7.7 1-.6 1.7-1.5 2-2.6-.9.5-1.9.9-3 1.1-.9-.9-2.1-1.5-3.4-1.5-2.6 0-4.7 2.1-4.7 4.7 0 .4 0 .7.1 1.1C8.1 8.2 4.7 6.3 2.4 3.5c-.4.7-.6 1.5-.6 2.3 0 1.6.8 3 2.1 3.9-.8 0-1.5-.2-2.1-.6v.1c0 2.3 1.6 4.1 3.7 4.6-.4.1-.8.2-1.2.2-.3 0-.6 0-.9-.1.6 1.8 2.3 3.2 4.4 3.2-1.6 1.3-3.6 2-5.8 2-.4 0-.7 0-1.1-.1 2.1 1.3 4.5 2.1 7.1 2.1 8.6 0 13.3-7.1 13.3-13.3v-.6c.9-.7 1.7-1.5 2.3-2.4z" fill="#fff"/></svg></span></div>
<div class="cnt" style="left:402px;top:199px;width:69px">10</div>
<div class="trk" style="left:402px;top:212px;width:71px"></div>
<div class="bar" style="left:402px;top:212px;width:58px;background:#ee4390"><span class="bi" style="background:#dd2e7c"><svg width="8" height="8" viewBox="0 0 24 24"><rect x="4" y="4" width="16" height="16" rx="4.5" fill="none" stroke="#fff" stroke-width="2.6"/><circle cx="12" cy="12" r="3.6" fill="none" stroke="#fff" stroke-width="2.4"/></svg></span></div>
<div class="cnt" style="left:402px;top:212px;width:69px">10</div>
<div class="trk" style="left:402px;top:226px;width:71px"></div>
<div class="bar" style="left:402px;top:226px;width:58px;background:#3d87f5"><span class="bi" style="background:#2a74ea"><svg width="8" height="8" viewBox="0 0 24 24"><circle cx="12" cy="12" r="10" fill="none" stroke="#fff" stroke-width="3.4"/><path d="M13.6 21V13.4h2.4l.4-2.8h-2.8V8.9c0-.8.3-1.4 1.4-1.4h1.5V5c-.3 0-1.2-.1-2.2-.1-2.200 0-3.600 1.300-3.600 3.700v2H8.300v2.800h2.400V21z" fill="#fff"/></svg></span></div>
<div class="cnt" style="left:402px;top:226px;width:69px">10</div>
<div class="dn" style="left:487px;top:184.6px">11</div>
<div class="trk" style="left:487px;top:199px;width:71px"></div>
<div class="bar" style="left:487px;top:199px;width:20px;background:#1ca8f5"><span class="bi" style="background:#0e9cef"><svg width="8" height="8" viewBox="-3 -3 30 30"><path d="M23.6 4.9c-.8.4-1.7.6-2.7.7 1-.6 1.7-1.5 2-2.6-.9.5-1.9.9-3 1.1-.9-.9-2.1-1.5-3.4-1.5-2.6 0-4.7 2.1-4.7 4.7 0 .4 0 .7.1 1.1C8.1 8.2 4.7 6.3 2.4 3.5c-.4.7-.6 1.5-.6 2.3 0 1.6.8 3 2.1 3.9-.8 0-1.5-.2-2.1-.6v.1c0 2.3 1.6 4.1 3.7 4.6-.4.1-.8.2-1.2.2-.3 0-.6 0-.9-.1.6 1.8 2.3 3.2 4.4 3.2-1.6 1.3-3.6 2-5.8 2-.4 0-.7 0-1.1-.1 2.1 1.3 4.5 2.1 7.1 2.1 8.6 0 13.3-7.1 13.3-13.3v-.6c.9-.7 1.7-1.5 2.3-2.4z" fill="#fff"/></svg></span></div>
<div class="cnt" style="left:487px;top:199px;width:69px">3</div>
<div class="trk" style="left:487px;top:212px;width:71px"></div>
<div class="bar" style="left:487px;top:212px;width:41px;background:#ee4390"><span class="bi" style="background:#dd2e7c"><svg width="8" height="8" viewBox="0 0 24 24"><rect x="4" y="4" width="16" height="16" rx="4.5" fill="none" stroke="#fff" stroke-width="2.6"/><circle cx="12" cy="12" r="3.6" fill="none" stroke="#fff" stroke-width="2.4"/></svg></span></div>
<div class="cnt" style="left:487px;top:212px;width:69px">7</div>
<div class="trk" style="left:487px;top:226px;width:71px"></div>
<div class="bar" style="left:487px;top:226px;width:48px;background:#3d87f5"><span class="bi" style="background:#2a74ea"><svg width="8" height="8" viewBox="0 0 24 24"><circle cx="12" cy="12" r="10" fill="none" stroke="#fff" stroke-width="3.4"/><path d="M13.6 21V13.4h2.4l.4-2.8h-2.8V8.9c0-.8.3-1.4 1.4-1.4h1.5V5c-.3 0-1.2-.1-2.2-.1-2.200 0-3.600 1.300-3.600 3.700v2H8.300v2.800h2.400V21z" fill="#fff"/></svg></span></div>
<div class="cnt" style="left:487px;top:226px;width:69px">10</div>
<div class="trk" style="left:487px;top:239px;width:71px"></div>
<div class="bar" style="left:487px;top:239px;width:17px;background:#ff0035"><span class="bi" style="background:#ea0030"><svg width="8" height="8" viewBox="0 0 24 24"><circle cx="12" cy="12" r="9" fill="none" stroke="#fff" stroke-width="3"/><path d="M10.5 8.5c3-.8 5 .6 5 2.600 0 2.300-2 3.600-4 2.800M11.3 10.5l-2 8" fill="none" stroke="#fff" stroke-width="2.4"/></svg></span></div>
<div class="cnt" style="left:487px;top:239px;width:69px">1</div>
<div class="dn" style="left:572px;top:184.6px">12</div>
<div class="trk" style="left:572px;top:199px;width:71px"></div>
<div class="bar" style="left:572px;top:199px;width:41px;background:#1ca8f5"><span class="bi" style="background:#0e9cef"><svg width="8" height="8" viewBox="-3 -3 30 30"><path d="M23.6 4.9c-.8.4-1.7.6-2.7.7 1-.6 1.7-1.5 2-2.6-.9.5-1.9.9-3 1.1-.9-.9-2.1-1.5-3.4-1.5-2.6 0-4.7 2.1-4.7 4.7 0 .4 0 .7.1 1.1C8.1 8.2 4.7 6.3 2.4 3.5c-.4.7-.6 1.5-.6 2.3 0 1.6.8 3 2.1 3.9-.8 0-1.5-.2-2.1-.6v.1c0 2.3 1.6 4.1 3.7 4.6-.4.1-.8.2-1.2.2-.3 0-.6 0-.9-.1.6 1.8 2.3 3.2 4.4 3.2-1.6 1.3-3.6 2-5.8 2-.4 0-.7 0-1.1-.1 2.1 1.3 4.5 2.1 7.1 2.1 8.6 0 13.3-7.1 13.3-13.3v-.6c.9-.7 1.7-1.5 2.3-2.4z" fill="#fff"/></svg></span></div>
<div class="cnt" style="left:572px;top:199px;width:69px">7</div>
<div class="trk" style="left:572px;top:212px;width:71px"></div>
<div class="bar" style="left:572px;top:212px;width:41px;background:#ee4390"><span class="bi" style="background:#dd2e7c"><svg width="8" height="8" viewBox="0 0 24 24"><rect x="4" y="4" width="16" height="16" rx="4.5" fill="none" stroke="#fff" stroke-width="2.6"/><circle cx="12" cy="12" r="3.6" fill="none" stroke="#fff" stroke-width="2.4"/></svg></span></div>
<div class="cnt" style="left:572px;top:212px;width:69px">7</div>
<div class="trk" style="left:572px;top:226px;width:71px"></div>
<div class="bar" style="left:572px;top:226px;width:40px;background:#3d87f5"><span class="bi" style="background:#2a74ea"><svg width="8" height="8" viewBox="0 0 24 24"><circle cx="12" cy="12" r="10" fill="none" stroke="#fff" stroke-width="3.4"/><path d="M13.6 21V13.4h2.4l.4-2.8h-2.8V8.9c0-.8.3-1.4 1.4-1.4h1.5V5c-.3 0-1.2-.1-2.2-.1-2.200 0-3.600 1.300-3.600 3.700v2H8.300v2.800h2.400V21z" fill="#fff"/></svg></span></div>
<div class="cnt" style="left:572px;top:226px;width:69px">6</div>
<div class="trk" style="left:572px;top:239px;width:71px"></div>
<div class="bar" style="left:572px;top:239px;width:57px;background:#ff0035"><span class="bi" style="background:#ea0030"><svg width="8" height="8" viewBox="0 0 24 24"><circle cx="12" cy="12" r="9" fill="none" stroke="#fff" stroke-width="3"/><path d="M10.5 8.5c3-.8 5 .6 5 2.600 0 2.300-2 3.600-4 2.800M11.3 10.5l-2 8" fill="none" stroke="#fff" stroke-width="2.4"/></svg></span></div>
<div class="cnt" style="left:572px;top:239px;width:69px">10</div>
<div class="dn" style="left:64px;top:265.8px">13</div>
<div class="trk" style="left:64px;top:280px;width:71px"></div>
<div class="bar" style="left:64px;top:280px;width:20px;background:#1ca8f5"><span class="bi" style="background:#0e9cef"><svg width="8" height="8" viewBox="-3 -3 30 30"><path d="M23.6 4.9c-.8.4-1.7.6-2.7.7 1-.6 1.7-1.5 2-2.6-.9.5-1.9.9-3 1.1-.9-.9-2.1-1.5-3.4-1.5-2.6 0-4.7 2.1-4.7 4.7 0 .4 0 .7.1 1.1C8.1 8.2 4.7 6.3 2.4 3.5c-.4.7-.6 1.5-.6 2.3 0 1.6.8 3 2.1 3.9-.8 0-1.5-.2-2.1-.6v.1c0 2.3 1.6 4.1 3.7 4.6-.4.1-.8.2-1.2.2-.3 0-.6 0-.9-.1.6 1.8 2.3 3.2 4.4 3.2-1.6 1.3-3.6 2-5.8 2-.4 0-.7 0-1.1-.1 2.1 1.3 4.5 2.1 7.1 2.1 8.6 0 13.3-7.1 13.3-13.3v-.6c.9-.7 1.7-1.5 2.3-2.4z" fill="#fff"/></svg></span></div>
<div class="cnt" style="left:64px;top:280px;width:69px">3</div>
<div class="trk" style="left:64px;top:293px;width:71px"></div>
<div class="bar" style="left:64px;top:293px;width:41px;background:#ee4390"><span class="bi" style="background:#dd2e7c"><svg width="8" height="8" viewBox="0 0 24 24"><rect x="4" y="4" width="16" height="16" rx="4.5" fill="none" stroke="#fff" stroke-width="2.6"/><circle cx="12" cy="12" r="3.6" fill="none" stroke="#fff" stroke-width="2.4"/></svg></span></div>
<div class="cnt" style="left:64px;top:293px;width:69px">7</div>
<div class="trk" style="left:64px;top:306px;width:71px"></div>
<div class="bar" style="left:64px;top:306px;width:48px;background:#3d87f5"><span class="bi" style="background:#2a74ea"><svg width="8" height="8" viewBox="0 0 24 24"><circle cx="12" cy="12" r="10" fill="none" stroke="#fff" stroke-width="3.4"/><path d="M13.6 21V13.4h2.4l.4-2.8h-2.8V8.9c0-.8.3-1.4 1.4-1.4h1.5V5c-.3 0-1.2-.1-2.2-.1-2.200 0-3.600 1.300-3.600 3.700v2H8.300v2.800h2.400V21z" fill="#fff"/></svg></span></div>
<div class="cnt" style="left:64px;top:306px;width:69px">10</div>
<div class="trk" style="left:64px;top:320px;width:71px"></div>
<div class="bar" style="left:64px;top:320px;width:17px;background:#ff0035"><span class="bi" style="background:#ea0030"><svg width="8" height="8" viewBox="0 0 24 24"><circle cx="12" cy="12" r="9" fill="none" stroke="#fff" stroke-width="3"/><path d="M10.5 8.5c3-.8 5 .6 5 2.600 0 2.300-2 3.600-4 2.800M11.3 10.5l-2 8" fill="none" stroke="#fff" stroke-width="2.4"/></svg></span></div>
<div class="cnt" style="left:64px;top:320px;width:69px">1</div>
<div class="dn" style="left:149px;top:265.8px">14</div>
<div class="trk" style="left:149px;top:280px;width:70px"></div>
<div class="bar" style="left:149px;top:280px;width:20px;background:#1ca8f5"><span class="bi" style="background:#0e9cef"><svg width="8" height="8" viewBox="-3 -3 30 30"><path d="M23.6 4.9c-.8.4-1.7.6-2.7.7 1-.6 1.7-1.5 2-2.6-.9.5-1.9.9-3 1.1-.9-.9-2.1-1.5-3.4-1.5-2.6 0-4.7 2.1-4.7 4.7 0 .4 0 .7.1 1.1C8.1 8.2 4.7 6.3 2.4 3.5c-.4.7-.6 1.5-.6 2.3 0 1.6.8 3 2.1 3.9-.8 0-1.5-.2-2.1-.6v.1c0 2.3 1.6 4.1 3.7 4.6-.4.1-.8.2-1.2.2-.3 0-.6 0-.9-.1.6 1.8 2.3 3.2 4.4 3.2-1.6 1.3-3.6 2-5.8 2-.4 0-.7 0-1.1-.1 2.1 1.3 4.5 2.1 7.1 2.1 8.6 0 13.3-7.1 13.3-13.3v-.6c.9-.7 1.7-1.5 2.3-2.4z" fill="#fff"/></svg></span></div>
<div class="cnt" style="left:149px;top:280px;width:68px">3</div>
<div class="trk" style="left:149px;top:293px;width:70px"></div>
<div class="bar" style="left:149px;top:293px;width:41px;background:#ee4390"><span class="bi" style="background:#dd2e7c"><svg width="8" height="8" viewBox="0 0 24 24"><rect x="4" y="4" width="16" height="16" rx="4.5" fill="none" stroke="#fff" stroke-width="2.6"/><circle cx="12" cy="12" r="3.6" fill="none" stroke="#fff" stroke-width="2.4"/></svg></span></div>
<div class="cnt" style="left:149px;top:293px;width:68px">7</div>
<div class="trk" style="left:149px;top:306px;width:70px"></div>
<div class="bar" style="left:149px;top:306px;width:48px;background:#3d87f5"><span class="bi" style="background:#2a74ea"><svg width="8" height="8" viewBox="0 0 24 24"><circle cx="12" cy="12" r="10" fill="none" stroke="#fff" stroke-width="3.4"/><path d="M13.6 21V13.4h2.4l.4-2.8h-2.8V8.9c0-.8.3-1.4 1.4-1.4h1.5V5c-.3 0-1.2-.1-2.2-.1-2.200 0-3.600 1.300-3.600 3.700v2H8.300v2.800h2.400V21z" fill="#fff"/></svg></span></div>
<div class="cnt" style="left:149px;top:306px;width:68px">10</div>
<div class="trk" style="left:149px;top:320px;width:70px"></div>
<div class="bar" style="left:149px;top:320px;width:17px;background:#ff0035"><span class="bi" style="background:#ea0030"><svg width="8" height="8" viewBox="0 0 24 24"><circle cx="12" cy="12" r="9" fill="none" stroke="#fff" stroke-width="3"/><path d="M10.5 8.5c3-.8 5 .6 5 2.600 0 2.300-2 3.600-4 2.800M11.3 10.5l-2 8" fill="none" stroke="#fff" stroke-width="2.4"/></svg></span></div>
<div class="cnt" style="left:149px;top:320px;width:68px">1</div>
<div class="dn" style="left:233px;top:265.8px">15</div>
<div class="trk" style="left:233px;top:280px;width:71px"></div>
<div class="bar" style="left:233px;top:280px;width:41px;background:#1ca8f5"><span class="bi" style="background:#0e9cef"><svg width="8" height="8" viewBox="-3 -3 30 30"><path d="M23.6 4.9c-.8.4-1.7.6-2.7.7 1-.6 1.7-1.5 2-2.6-.9.5-1.9.9-3 1.1-.9-.9-2.1-1.5-3.4-1.5-2.6 0-4.7 2.1-4.7 4.7 0 .4 0 .7.1 1.1C8.1 8.2 4.7 6.3 2.4 3.5c-.4.7-.6 1.5-.6 2.3 0 1.6.8 3 2.1 3.9-.8 0-1.5-.2-2.1-.6v.1c0 2.3 1.6 4.1 3.7 4.6-.4.1-.8.2-1.2.2-.3 0-.6 0-.9-.1.6 1.8 2.3 3.2 4.4 3.2-1.6 1.3-3.6 2-5.8 2-.4 0-.7 0-1.1-.1 2.1 1.3 4.5 2.1 7.1 2.1 8.6 0 13.3-7.1 13.3-13.3v-.6c.9-.7 1.7-1.5 2.3-2.4z" fill="#fff"/></svg></span></div>
<div class="cnt" style="left:233px;top:280px;width:69px">7</div>
<div class="trk" style="left:233px;top:293px;width:71px"></div>
<div class="bar" style="left:233px;top:293px;width:41px;background:#ee4390"><span class="bi" style="background:#dd2e7c"><svg width="8" height="8" viewBox="0 0 24 24"><rect x="4" y="4" width="16" height="16" rx="4.5" fill="none" stroke="#fff" stroke-width="2.6"/><circle cx="12" cy="12" r="3.6" fill="none" stroke="#fff" stroke-width="2.4"/></svg></span></div>
<div class="cnt" style="left:233px;top:293px;width:69px">7</div>
<div class="trk" style="left:233px;top:306px;width:71px"></div>
<div class="bar" style="left:233px;top:306px;width:40px;background:#3d87f5"><span class="bi" style="background:#2a74ea"><svg width="8" height="8" viewBox="0 0 24 24"><circle cx="12" cy="12" r="10" fill="none" stroke="#fff" stroke-width="3.4"/><path d="M13.6 21V13.4h2.4l.4-2.8h-2.8V8.9c0-.8.3-1.4 1.4-1.4h1.5V5c-.3 0-1.2-.1-2.2-.1-2.200 0-3.600 1.300-3.600 3.700v2H8.300v2.800h2.400V21z" fill="#fff"/></svg></span></div>
<div class="cnt" style="left:233px;top:306px;width:69px">6</div>
<div class="trk" style="left:233px;top:320px;width:71px"></div>
<div class="bar" style="left:233px;top:320px;width:57px;background:#ff0035"><span class="bi" style="background:#ea0030"><svg width="8" height="8" viewBox="0 0 24 24"><circle cx="12" cy="12" r="9" fill="none" stroke="#fff" stroke-width="3"/><path d="M10.5 8.5c3-.8 5 .6 5 2.600 0 2.300-2 3.600-4 2.800M11.3 10.5l-2 8" fill="none" stroke="#fff" stroke-width="2.4"/></svg></span></div>
<div class="cnt" style="left:233px;top:320px;width:69px">10</div>
<div class="dn" style="left:318px;top:265.8px">16</div>
<div class="trk" style="left:318px;top:280px;width:70px"></div>
<div class="bar" style="left:318px;top:280px;width:41px;background:#1ca8f5"><span class="bi" style="background:#0e9cef"><svg width="8" height="8" viewBox="-3 -3 30 30"><path d="M23.6 4.9c-.8.4-1.7.6-2.7.7 1-.6 1.7-1.5 2-2.6-.9.5-1.9.9-3 1.1-.9-.9-2.1-1.5-3.4-1.5-2.6 0-4.7 2.1-4.7 4.7 0 .4 0 .7.1 1.1C8.1 8.2 4.7 6.3 2.4 3.5c-.4.7-.6 1.5-.6 2.3 0 1.6.8 3 2.1 3.9-.8 0-1.5-.2-2.1-.6v.1c0 2.3 1.6 4.1 3.7 4.6-.4.1-.8.2-1.2.2-.3 0-.6 0-.9-.1.6 1.8 2.3 3.2 4.4 3.2-1.6 1.3-3.6 2-5.8 2-.4 0-.7 0-1.1-.1 2.1 1.3 4.5 2.1 7.1 2.1 8.6 0 13.3-7.1 13.3-13.3v-.6c.9-.7 1.7-1.5 2.3-2.4z" fill="#fff"/></svg></span></div>
<div class="cnt" style="left:318px;top:280px;width:68px">7</div>
<div class="trk" style="left:318px;top:293px;width:70px"></div>
<div class="bar" style="left:318px;top:293px;width:41px;background:#ee4390"><span class="bi" style="background:#dd2e7c"><svg width="8" height="8" viewBox="0 0 24 24"><rect x="4" y="4" width="16" height="16" rx="4.5" fill="none" stroke="#fff" stroke-width="2.6"/><circle cx="12" cy="12" r="3.6" fill="none" stroke="#fff" stroke-width="2.4"/></svg></span></div>
<div class="cnt" style="left:318px;top:293px;width:68px">7</div>
<div class="trk" style="left:318px;top:306px;width:70px"></div>
<div class="bar" style="left:318px;top:306px;width:40px;background:#3d87f5"><span class="bi" style="background:#2a74ea"><svg width="8" height="8" viewBox="0 0 24 24"><circle cx="12" cy="12" r="10" fill="none" stroke="#fff" stroke-width="3.4"/><path d="M13.6 21V13.4h2.4l.4-2.8h-2.8V8.9c0-.8.3-1.4 1.4-1.4h1.5V5c-.3 0-1.2-.1-2.2-.1-2.200 0-3.600 1.300-3.600 3.700v2H8.300v2.800h2.400V21z" fill="#fff"/></svg></span></div>
<div class="cnt" style="left:318px;top:306px;width:68px">6</div>
<div class="trk" style="left:318px;top:320px;width:70px"></div>
<div class="bar" style="left:318px;top:320px;width:57px;background:#ff0035"><span class="bi" style="background:#ea0030"><svg width="8" height="8" viewBox="0 0 24 24"><circle cx="12" cy="12" r="9" fill="none" stroke="#fff" stroke-width="3"/><path d="M10.5 8.5c3-.8 5 .6 5 2.600 0 2.300-2 3.600-4 2.800M11.3 10.5l-2 8" fill="none" stroke="#fff" stroke-width="2.4"/></svg></span></div>
<div class="cnt" style="left:318px;top:320px;width:68px">10</div>
<div class="dn" style="left:402px;top:265.8px">17</div>
<div class="trk" style="left:402px;top:280px;width:71px"></div>
<div class="bar" style="left:402px;top:280px;width:20px;background:#1ca8f5"><span class="bi" style="background:#0e9cef"><svg width="8" height="8" viewBox="-3 -3 30 30"><path d="M23.6 4.9c-.8.4-1.7.6-2.7.7 1-.6 1.7-1.5 2-2.6-.9.5-1.9.9-3 1.1-.9-.9-2.1-1.5-3.4-1.5-2.6 0-4.7 2.1-4.7 4.7 0 .4 0 .7.1 1.1C8.1 8.2 4.7 6.3 2.4 3.5c-.4.7-.6 1.5-.6 2.3 0 1.6.8 3 2.1 3.9-.8 0-1.5-.2-2.1-.6v.1c0 2.3 1.6 4.1 3.7 4.6-.4.1-.8.2-1.2.2-.3 0-.6 0-.9-.1.6 1.8 2.3 3.2 4.4 3.2-1.6 1.3-3.6 2-5.8 2-.4 0-.7 0-1.1-.1 2.1 1.3 4.5 2.1 7.1 2.1 8.6 0 13.3-7.1 13.3-13.3v-.6c.9-.7 1.7-1.5 2.3-2.4z" fill="#fff"/></svg></span></div>
<div class="cnt" style="left:402px;top:280px;width:69px">3</div>
<div class="trk" style="left:402px;top:293px;width:71px"></div>
<div class="bar" style="left:402px;top:293px;width:41px;background:#ee4390"><span class="bi" style="background:#dd2e7c"><svg width="8" height="8" viewBox="0 0 24 24"><rect x="4" y="4" width="16" height="16" rx="4.5" fill="none" stroke="#fff" stroke-width="2.6"/><circle cx="12" cy="12" r="3.6" fill="none" stroke="#fff" stroke-width="2.4"/></svg></span></div>
<div class="cnt" style="left:402px;top:293px;width:69px">7</div>
<div class="trk" style="left:402px;top:306px;width:71px"></div>
<div class="bar" style="left:402px;top:306px;width:48px;background:#3d87f5"><span class="bi" style="background:#2a74ea"><svg width="8" height="8" viewBox="0 0 24 24"><circle cx="12" cy="12" r="10" fill="none" stroke="#fff" stroke-width="3.4"/><path d="M13.6 21V13.4h2.4l.4-2.8h-2.8V8.9c0-.8.3-1.4 1.4-1.4h1.5V5c-.3 0-1.2-.1-2.2-.1-2.200 0-3.600 1.300-3.600 3.700v2H8.300v2.800h2.400V21z" fill="#fff"/></svg></span></div>
<div class="cnt" style="left:402px;top:306px;width:69px">10</div>
<div class="trk" style="left:402px;top:320px;width:71px"></div>
<div class="bar" style="left:402px;top:320px;width:17px;background:#ff0035"><span class="bi" style="background:#ea0030"><svg width="8" height="8" viewBox="0 0 24 24"><circle cx="12" cy="12" r="9" fill="none" stroke="#fff" stroke-width="3"/><path d="M10.5 8.5c3-.8 5 .6 5 2.600 0 2.300-2 3.600-4 2.800M11.3 10.5l-2 8" fill="none" stroke="#fff" stroke-width="2.4"/></svg></span></div>
<div class="cnt" style="left:402px;top:320px;width:69px">1</div>
<div class="dn" style="left:487px;top:265.8px">18</div>
<div class="trk" style="left:487px;top:280px;width:71px"></div>
<div class="bar" style="left:487px;top:280px;width:20px;background:#1ca8f5"><span class="bi" style="background:#0e9cef"><svg width="8" height="8" viewBox="-3 -3 30 30"><path d="M23.6 4.9c-.8.4-1.7.6-2.7.7 1-.6 1.7-1.5 2-2.6-.9.5-1.9.9-3 1.1-.9-.9-2.1-1.5-3.4-1.5-2.6 0-4.7 2.1-4.7 4.7 0 .4 0 .7.1 1.1C8.1 8.2 4.7 6.3 2.4 3.5c-.4.7-.6 1.5-.6 2.3 0 1.6.8 3 2.1 3.9-.8 0-1.5-.2-2.1-.6v.1c0 2.3 1.6 4.1 3.7 4.6-.4.1-.8.2-1.2.2-.3 0-.6 0-.9-.1.6 1.8 2.3 3.2 4.4 3.2-1.6 1.3-3.6 2-5.8 2-.4 0-.7 0-1.1-.1 2.1 1.3 4.5 2.1 7.1 2.1 8.6 0 13.3-7.1 13.3-13.3v-.6c.9-.7 1.7-1.5 2.3-2.4z" fill="#fff"/></svg></span></div>
<div class="cnt" style="left:487px;top:280px;width:69px">3</div>
<div class="trk" style="left:487px;top:293px;width:71px"></div>
<div class="bar" style="left:487px;top:293px;width:41px;background:#ee4390"><span class="bi" style="background:#dd2e7c"><svg width="8" height="8" viewBox="0 0 24 24"><rect x="4" y="4" width="16" height="16" rx="4.5" fill="none" stroke="#fff" stroke-width="2.6"/><circle cx="12" cy="12" r="3.6" fill="none" stroke="#fff" stroke-width="2.4"/></svg></span></div>
<div class="cnt" style="left:487px;top:293px;width:69px">7</div>
<div class="trk" style="left:487px;top:306px;width:71px"></div>
<div class="bar" style="left:487px;top:306px;width:48px;background:#3d87f5"><span class="bi" style="background:#2a74ea"><svg width="8" height="8" viewBox="0 0 24 24"><circle cx="12" cy="12" r="10" fill="none" stroke="#fff" stroke-width="3.4"/><path d="M13.6 21V13.4h2.4l.4-2.8h-2.8V8.9c0-.8.3-1.4 1.4-1.4h1.5V5c-.3 0-1.2-.1-2.2-.1-2.200 0-3.600 1.300-3.600 3.700v2H8.300v2.800h2.400V21z" fill="#fff"/></svg></span></div>
<div class="cnt" style="left:487px;top:306px;width:69px">10</div>
<div class="trk" style="left:487px;top:320px;width:71px"></div>
<div class="bar" style="left:487px;top:320px;width:17px;background:#ff0035"><span class="bi" style="background:#ea0030"><svg width="8" height="8" viewBox="0 0 24 24"><circle cx="12" cy="12" r="9" fill="none" stroke="#fff" stroke-width="3"/><path d="M10.5 8.5c3-.8 5 .6 5 2.600 0 2.300-2 3.600-4 2.800M11.3 10.5l-2 8" fill="none" stroke="#fff" stroke-width="2.4"/></svg></span></div>
<div class="cnt" style="left:487px;top:320px;width:69px">1</div>
<div class="dn" style="left:572px;top:265.8px">19</div>
<div class="trk" style="left:572px;top:280px;width:71px"></div>
<div class="bar" style="left:572px;top:280px;width:57px;background:#1ca8f5"><span class="bi" style="background:#0e9cef"><svg width="8" height="8" viewBox="-3 -3 30 30"><path d="M23.6 4.9c-.8.4-1.7.6-2.7.7 1-.6 1.7-1.5 2-2.6-.9.5-1.9.9-3 1.1-.9-.9-2.1-1.5-3.4-1.5-2.6 0-4.7 2.1-4.7 4.7 0 .4 0 .7.1 1.1C8.1 8.2 4.7 6.3 2.4 3.5c-.4.7-.6 1.5-.6 2.3 0 1.6.8 3 2.1 3.9-.8 0-1.5-.2-2.1-.6v.1c0 2.3 1.6 4.1 3.7 4.6-.4.1-.8.2-1.2.2-.3 0-.6 0-.9-.1.6 1.8 2.3 3.2 4.4 3.2-1.6 1.3-3.6 2-5.8 2-.4 0-.7 0-1.1-.1 2.1 1.3 4.5 2.1 7.1 2.1 8.6 0 13.3-7.1 13.3-13.3v-.6c.9-.7 1.7-1.5 2.3-2.4z" fill="#fff"/></svg></span></div>
<div class="cnt" style="left:572px;top:280px;width:69px">14</div>
<div class="trk" style="left:572px;top:293px;width:71px"></div>
<div class="bar" style="left:572px;top:293px;width:41px;background:#ee4390"><span class="bi" style="background:#dd2e7c"><svg width="8" height="8" viewBox="0 0 24 24"><rect x="4" y="4" width="16" height="16" rx="4.5" fill="none" stroke="#fff" stroke-width="2.6"/><circle cx="12" cy="12" r="3.6" fill="none" stroke="#fff" stroke-width="2.4"/></svg></span></div>
<div class="cnt" style="left:572px;top:293px;width:69px">7</div>
<div class="trk" style="left:572px;top:306px;width:71px"></div>
<div class="bar" style="left:572px;top:306px;width:24px;background:#3d87f5"><span class="bi" style="background:#2a74ea"><svg width="8" height="8" viewBox="0 0 24 24"><circle cx="12" cy="12" r="10" fill="none" stroke="#fff" stroke-width="3.4"/><path d="M13.6 21V13.4h2.4l.4-2.8h-2.8V8.9c0-.8.3-1.4 1.4-1.4h1.5V5c-.3 0-1.2-.1-2.2-.1-2.200 0-3.600 1.300-3.600 3.700v2H8.300v2.800h2.400V21z" fill="#fff"/></svg></span></div>
<div class="cnt" style="left:572px;top:306px;width:69px">3</div>
<div class="trk" style="left:572px;top:320px;width:71px"></div>
<div class="bar" style="left:572px;top:320px;width:17px;background:#ff0035"><span class="bi" style="background:#ea0030"><svg width="8" height="8" viewBox="0 0 24 24"><circle cx="12" cy="12" r="9" fill="none" stroke="#fff" stroke-width="3"/><path d="M10.5 8.5c3-.8 5 .6 5 2.600 0 2.300-2 3.600-4 2.800M11.3 10.5l-2 8" fill="none" stroke="#fff" stroke-width="2.4"/></svg></span></div>
<div class="cnt" style="left:572px;top:320px;width:69px">2</div>
<div class="dn" style="left:64px;top:346.4px">20</div>
<div class="trk" style="left:64px;top:361px;width:71px"></div>
<div class="bar" style="left:64px;top:361px;width:20px;background:#1ca8f5"><span class="bi" style="background:#0e9cef"><svg width="8" height="8" viewBox="-3 -3 30 30"><path d="M23.6 4.9c-.8.4-1.7.6-2.7.7 1-.6 1.7-1.5 2-2.6-.9.5-1.9.9-3 1.1-.9-.9-2.1-1.5-3.4-1.5-2.6 0-4.7 2.1-4.7 4.7 0 .4 0 .7.1 1.1C8.1 8.2 4.7 6.3 2.4 3.5c-.4.7-.6 1.5-.6 2.3 0 1.6.8 3 2.1 3.9-.8 0-1.5-.2-2.1-.6v.1c0 2.3 1.6 4.1 3.7 4.6-.4.1-.8.2-1.2.2-.3 0-.6 0-.9-.1.6 1.8 2.3 3.2 4.4 3.2-1.6 1.3-3.6 2-5.8 2-.4 0-.7 0-1.1-.1 2.1 1.3 4.5 2.1 7.1 2.1 8.6 0 13.3-7.1 13.3-13.3v-.6c.9-.7 1.7-1.5 2.3-2.4z" fill="#fff"/></svg></span></div>
<div class="cnt" style="left:64px;top:361px;width:69px">3</div>
<div class="trk" style="left:64px;top:374px;width:71px"></div>
<div class="bar" style="left:64px;top:374px;width:41px;background:#ee4390"><span class="bi" style="background:#dd2e7c"><svg width="8" height="8" viewBox="0 0 24 24"><rect x="4" y="4" width="16" height="16" rx="4.5" fill="none" stroke="#fff" stroke-width="2.6"/><circle cx="12" cy="12" r="3.6" fill="none" stroke="#fff" stroke-width="2.4"/></svg></span></div>
<div class="cnt" style="left:64px;top:374px;width:69px">7</div>
<div class="trk" style="left:64px;top:387px;width:71px"></div>
<div class="bar" style="left:64px;top:387px;width:48px;background:#3d87f5"><span class="bi" style="background:#2a74ea"><svg width="8" height="8" viewBox="0 0 24 24"><circle cx="12" cy="12" r="10" fill="none" stroke="#fff" stroke-width="3.4"/><path d="M13.6 21V13.4h2.4l.4-2.8h-2.8V8.9c0-.8.3-1.4 1.4-1.4h1.5V5c-.3 0-1.2-.1-2.2-.1-2.200 0-3.600 1.300-3.600 3.700v2H8.300v2.800h2.400V21z" fill="#fff"/></svg></span></div>
<div class="cnt" style="left:64px;top:387px;width:69px">10</div>
<div class="trk" style="left:64px;top:401px;width:71px"></div>
<div class="bar" style="left:64px;top:401px;width:17px;background:#ff0035"><span class="bi" style="background:#ea0030"><svg width="8" height="8" viewBox="0 0 24 24"><circle cx="12" cy="12" r="9" fill="none" stroke="#fff" stroke-width="3"/><path d="M10.5 8.5c3-.8 5 .6 5 2.600 0 2.300-2 3.600-4 2.800M11.3 10.5l-2 8" fill="none" stroke="#fff" stroke-width="2.4"/></svg></span></div>
<div class="cnt" style="left:64px;top:401px;width:69px">1</div>
<div class="dn" style="left:149px;top:346.4px">21</div>
<div class="trk" style="left:149px;top:361px;width:70px"></div>
<div class="bar" style="left:149px;top:361px;width:20px;background:#1ca8f5"><span class="bi" style="background:#0e9cef"><svg width="8" height="8" viewBox="-3 -3 30 30"><path d="M23.6 4.9c-.8.4-1.7.6-2.7.7 1-.6 1.7-1.5 2-2.6-.9.5-1.9.9-3 1.1-.9-.9-2.1-1.5-3.4-1.5-2.6 0-4.7 2.1-4.7 4.7 0 .4 0 .7.1 1.1C8.1 8.2 4.7 6.3 2.4 3.5c-.4.7-.6 1.5-.6 2.3 0 1.6.8 3 2.1 3.9-.8 0-1.5-.2-2.1-.6v.1c0 2.3 1.6 4.1 3.7 4.6-.4.1-.8.2-1.2.2-.3 0-.6 0-.9-.1.6 1.8 2.3 3.2 4.4 3.2-1.6 1.3-3.6 2-5.8 2-.4 0-.7 0-1.1-.1 2.1 1.3 4.5 2.1 7.1 2.1 8.6 0 13.3-7.1 13.3-13.3v-.6c.9-.7 1.7-1.5 2.3-2.4z" fill="#fff"/></svg></span></div>
<div class="cnt" style="left:149px;top:361px;width:68px">3</div>
<div class="trk" style="left:149px;top:374px;width:70px"></div>
<div class="bar" style="left:149px;top:374px;width:41px;background:#ee4390"><span class="bi" style="background:#dd2e7c"><svg width="8" height="8" viewBox="0 0 24 24"><rect x="4" y="4" width="16" height="16" rx="4.5" fill="none" stroke="#fff" stroke-width="2.6"/><circle cx="12" cy="12" r="3.6" fill="none" stroke="#fff" stroke-width="2.4"/></svg></span></div>
<div class="cnt" style="left:149px;top:374px;width:68px">7</div>
<div class="trk" style="left:149px;top:387px;width:70px"></div>
<div class="bar" style="left:149px;top:387px;width:48px;background:#3d87f5"><span class="bi" style="background:#2a74ea"><svg width="8" height="8" viewBox="0 0 24 24"><circle cx="12" cy="12" r="10" fill="none" stroke="#fff" stroke-width="3.4"/><path d="M13.6 21V13.4h2.4l.4-2.8h-2.8V8.9c0-.8.3-1.4 1.4-1.4h1.5V5c-.3 0-1.2-.1-2.2-.1-2.200 0-3.600 1.300-3.600 3.700v2H8.300v2.800h2.400V21z" fill="#fff"/></svg></span></div>
<div class="cnt" style="left:149px;top:387px;width:68px">10</div>
<div class="dn" style="left:233px;top:346.4px">22</div>
<div class="trk" style="left:233px;top:361px;width:71px"></div>
<div class="bar" style="left:233px;top:361px;width:20px;background:#1ca8f5"><span class="bi" style="background:#0e9cef"><svg width="8" height="8" viewBox="-3 -3 30 30"><path d="M23.6 4.9c-.8.4-1.7.6-2.7.7 1-.6 1.7-1.5 2-2.6-.9.5-1.9.9-3 1.1-.9-.9-2.1-1.5-3.4-1.5-2.6 0-4.7 2.1-4.7 4.7 0 .4 0 .7.1 1.1C8.1 8.2 4.7 6.3 2.4 3.5c-.4.7-.6 1.5-.6 2.3 0 1.6.8 3 2.1 3.9-.8 0-1.5-.2-2.1-.6v.1c0 2.3 1.6 4.1 3.7 4.6-.4.1-.8.2-1.2.2-.3 0-.6 0-.9-.1.6 1.8 2.3 3.2 4.4 3.2-1.6 1.3-3.6 2-5.8 2-.4 0-.7 0-1.1-.1 2.1 1.3 4.5 2.1 7.1 2.1 8.6 0 13.3-7.1 13.3-13.3v-.6c.9-.7 1.7-1.5 2.3-2.4z" fill="#fff"/></svg></span></div>
<div class="cnt" style="left:233px;top:361px;width:69px">3</div>
<div class="trk" style="left:233px;top:374px;width:71px"></div>
<div class="bar" style="left:233px;top:374px;width:41px;background:#ee4390"><span class="bi" style="background:#dd2e7c"><svg width="8" height="8" viewBox="0 0 24 24"><rect x="4" y="4" width="16" height="16" rx="4.5" fill="none" stroke="#fff" stroke-width="2.6"/><circle cx="12" cy="12" r="3.6" fill="none" stroke="#fff" stroke-width="2.4"/></svg></span></div>
<div class="cnt" style="left:233px;top:374px;width:69px">7</div>
<div class="trk" style="left:233px;top:387px;width:71px"></div>
<div class="bar" style="left:233px;top:387px;width:17px;background:#ff0035"><span class="bi" style="background:#ea0030"><svg width="8" height="8" viewBox="0 0 24 24"><circle cx="12" cy="12" r="9" fill="none" stroke="#fff" stroke-width="3"/><path d="M10.5 8.5c3-.8 5 .6 5 2.600 0 2.300-2 3.600-4 2.800M11.3 10.5l-2 8" fill="none" stroke="#fff" stroke-width="2.4"/></svg></span></div>
<div class="cnt" style="left:233px;top:387px;width:69px">1</div>
<div class="dn" style="left:318px;top:346.4px">23</div>
<div class="trk" style="left:318px;top:361px;width:70px"></div>
<div class="bar" style="left:318px;top:361px;width:41px;background:#1ca8f5"><span class="bi" style="background:#0e9cef"><svg width="8" height="8" viewBox="-3 -3 30 30"><path d="M23.6 4.9c-.8.4-1.7.6-2.7.7 1-.6 1.7-1.5 2-2.6-.9.5-1.9.9-3 1.1-.9-.9-2.1-1.5-3.4-1.5-2.6 0-4.7 2.1-4.7 4.7 0 .4 0 .7.1 1.1C8.1 8.2 4.7 6.3 2.4 3.5c-.4.7-.6 1.5-.6 2.3 0 1.6.8 3 2.1 3.9-.8 0-1.5-.2-2.1-.6v.1c0 2.3 1.6 4.1 3.7 4.6-.4.1-.8.2-1.2.2-.3 0-.6 0-.9-.1.6 1.8 2.3 3.2 4.4 3.2-1.6 1.3-3.6 2-5.8 2-.4 0-.7 0-1.1-.1 2.1 1.3 4.5 2.1 7.1 2.1 8.6 0 13.3-7.1 13.3-13.3v-.6c.9-.7 1.7-1.5 2.3-2.4z" fill="#fff"/></svg></span></div>
<div class="cnt" style="left:318px;top:361px;width:68px">7</div>
<div class="trk" style="left:318px;top:374px;width:70px"></div>
<div class="bar" style="left:318px;top:374px;width:41px;background:#ee4390"><span class="bi" style="background:#dd2e7c"><svg width="8" height="8" viewBox="0 0 24 24"><rect x="4" y="4" width="16" height="16" rx="4.5" fill="none" stroke="#fff" stroke-width="2.6"/><circle cx="12" cy="12" r="3.6" fill="none" stroke="#fff" stroke-width="2.4"/></svg></span></div>
<div class="cnt" style="left:318px;top:374px;width:68px">7</div>
<div class="trk" style="left:318px;top:387px;width:70px"></div>
<div class="bar" style="left:318px;top:387px;width:40px;background:#3d87f5"><span class="bi" style="background:#2a74ea"><svg width="8" height="8" viewBox="0 0 24 24"><circle cx="12" cy="12" r="10" fill="none" stroke="#fff" stroke-width="3.4"/><path d="M13.6 21V13.4h2.4l.4-2.8h-2.8V8.9c0-.8.3-1.4 1.4-1.4h1.5V5c-.3 0-1.2-.1-2.2-.1-2.200 0-3.600 1.300-3.600 3.700v2H8.300v2.800h2.400V21z" fill="#fff"/></svg></span></div>
<div class="cnt" style="left:318px;top:387px;width:68px">6</div>
<div class="trk" style="left:318px;top:401px;width:70px"></div>
<div class="bar" style="left:318px;top:401px;width:57px;background:#ff0035"><span class="bi" style="background:#ea0030"><svg width="8" height="8" viewBox="0 0 24 24"><circle cx="12" cy="12" r="9" fill="none" stroke="#fff" stroke-width="3"/><path d="M10.5 8.5c3-.8 5 .6 5 2.600 0 2.300-2 3.600-4 2.800M11.3 10.5l-2 8" fill="none" stroke="#fff" stroke-width="2.4"/></svg></span></div>
<div class="cnt" style="left:318px;top:401px;width:68px">10</div>
<div class="dn" style="left:402px;top:346.4px">24</div>
<div class="trk" style="left:402px;top:361px;width:71px"></div>
<div class="bar" style="left:402px;top:361px;width:20px;background:#1ca8f5"><span class="bi" style="background:#0e9cef"><svg width="8" height="8" viewBox="-3 -3 30 30"><path d="M23.6 4.9c-.8.4-1.7.6-2.7.7 1-.6 1.7-1.5 2-2.6-.9.5-1.9.9-3 1.1-.9-.9-2.1-1.5-3.4-1.5-2.6 0-4.7 2.1-4.7 4.7 0 .4 0 .7.1 1.1C8.1 8.2 4.7 6.3 2.4 3.5c-.4.7-.6 1.5-.6 2.3 0 1.6.8 3 2.1 3.9-.8 0-1.5-.2-2.1-.6v.1c0 2.3 1.6 4.1 3.7 4.6-.4.1-.8.2-1.2.2-.3 0-.6 0-.9-.1.6 1.8 2.3 3.2 4.4 3.2-1.6 1.3-3.6 2-5.8 2-.4 0-.7 0-1.1-.1 2.1 1.3 4.5 2.1 7.1 2.1 8.6 0 13.3-7.1 13.3-13.3v-.6c.9-.7 1.7-1.5 2.3-2.4z" fill="#fff"/></svg></span></div>
<div class="cnt" style="left:402px;top:361px;width:69px">3</div>
<div class="trk" style="left:402px;top:374px;width:71px"></div>
<div class="bar" style="left:402px;top:374px;width:41px;background:#ee4390"><span class="bi" style="background:#dd2e7c"><svg width="8" height="8" viewBox="0 0 24 24"><rect x="4" y="4" width="16" height="16" rx="4.5" fill="none" stroke="#fff" stroke-width="2.6"/><circle cx="12" cy="12" r="3.6" fill="none" stroke="#fff" stroke-width="2.4"/></svg></span></div>
<div class="cnt" style="left:402px;top:374px;width:69px">7</div>
<div class="trk" style="left:402px;top:387px;width:71px"></div>
<div class="bar" style="left:402px;top:387px;width:48px;background:#3d87f5"><span class="bi" style="background:#2a74ea"><svg width="8" height="8" viewBox="0 0 24 24"><circle cx="12" cy="12" r="10" fill="none" stroke="#fff" stroke-width="3.4"/><path d="M13.6 21V13.4h2.4l.4-2.8h-2.8V8.9c0-.8.3-1.4 1.4-1.4h1.5V5c-.3 0-1.2-.1-2.2-.1-2.200 0-3.600 1.300-3.600 3.700v2H8.300v2.800h2.400V21z" fill="#fff"/></svg></span></div>
<div class="cnt" style="left:402px;top:387px;width:69px">10</div>
<div class="trk" style="left:402px;top:401px;width:71px"></div>
<div class="bar" style="left:402px;top:401px;width:17px;background:#ff0035"><span class="bi" style="background:#ea0030"><svg width="8" height="8" viewBox="0 0 24 24"><circle cx="12" cy="12" r="9" fill="none" stroke="#fff" stroke-width="3"/><path d="M10.5 8.5c3-.8 5 .6 5 2.600 0 2.300-2 3.600-4 2.800M11.3 10.5l-2 8" fill="none" stroke="#fff" stroke-width="2.4"/></svg></span></div>
<div class="cnt" style="left:402px;top:401px;width:69px">1</div>
<div class="dn" style="left:487px;top:346.4px">25</div>
<div class="trk" style="left:487px;top:361px;width:71px"></div>
<div class="bar" style="left:487px;top:361px;width:57px;background:#1ca8f5"><span class="bi" style="background:#0e9cef"><svg width="8" height="8" viewBox="-3 -3 30 30"><path d="M23.6 4.9c-.8.4-1.7.6-2.7.7 1-.6 1.7-1.5 2-2.6-.9.5-1.9.9-3 1.1-.9-.9-2.1-1.5-3.4-1.5-2.6 0-4.7 2.1-4.7 4.7 0 .4 0 .7.1 1.1C8.1 8.2 4.7 6.3 2.4 3.5c-.4.7-.6 1.5-.6 2.3 0 1.6.8 3 2.1 3.9-.8 0-1.5-.2-2.1-.6v.1c0 2.3 1.6 4.1 3.7 4.6-.4.1-.8.2-1.2.2-.3 0-.6 0-.9-.1.6 1.8 2.3 3.2 4.4 3.2-1.6 1.3-3.6 2-5.8 2-.4 0-.7 0-1.1-.1 2.1 1.3 4.5 2.1 7.1 2.1 8.6 0 13.3-7.1 13.3-13.3v-.6c.9-.7 1.7-1.5 2.3-2.4z" fill="#fff"/></svg></span></div>
<div class="cnt" style="left:487px;top:361px;width:69px">14</div>
<div class="trk" style="left:487px;top:374px;width:71px"></div>
<div class="bar" style="left:487px;top:374px;width:41px;background:#ee4390"><span class="bi" style="background:#dd2e7c"><svg width="8" height="8" viewBox="0 0 24 24"><rect x="4" y="4" width="16" height="16" rx="4.5" fill="none" stroke="#fff" stroke-width="2.6"/><circle cx="12" cy="12" r="3.6" fill="none" stroke="#fff" stroke-width="2.4"/></svg></span></div>
<div class="cnt" style="left:487px;top:374px;width:69px">7</div>
<div class="trk" style="left:487px;top:387px;width:71px"></div>
<div class="bar" style="left:487px;top:387px;width:24px;background:#3d87f5"><span class="bi" style="background:#2a74ea"><svg width="8" height="8" viewBox="0 0 24 24"><circle cx="12" cy="12" r="10" fill="none" stroke="#fff" stroke-width="3.4"/><path d="M13.6 21V13.4h2.4l.4-2.8h-2.8V8.9c0-.8.3-1.4 1.4-1.4h1.5V5c-.3 0-1.2-.1-2.2-.1-2.200 0-3.600 1.300-3.600 3.700v2H8.300v2.800h2.400V21z" fill="#fff"/></svg></span></div>
<div class="cnt" style="left:487px;top:387px;width:69px">3</div>
<div class="trk" style="left:487px;top:401px;width:71px"></div>
<div class="bar" style="left:487px;top:401px;width:17px;background:#ff0035"><span class="bi" style="background:#ea0030"><svg width="8" height="8" viewBox="0 0 24 24"><circle cx="12" cy="12" r="9" fill="none" stroke="#fff" stroke-width="3"/><path d="M10.5 8.5c3-.8 5 .6 5 2.600 0 2.300-2 3.600-4 2.800M11.3 10.5l-2 8" fill="none" stroke="#fff" stroke-width="2.4"/></svg></span></div>
<div class="cnt" style="left:487px;top:401px;width:69px">2</div>
<div class="dn" style="left:572px;top:346.4px">26</div>
<div class="trk" style="left:572px;top:361px;width:71px"></div>
<div class="bar" style="left:572px;top:361px;width:57px;background:#1ca8f5"><span class="bi" style="background:#0e9cef"><svg width="8" height="8" viewBox="-3 -3 30 30"><path d="M23.6 4.9c-.8.4-1.7.6-2.7.7 1-.6 1.7-1.5 2-2.6-.9.5-1.9.9-3 1.1-.9-.9-2.1-1.5-3.4-1.5-2.6 0-4.7 2.1-4.7 4.7 0 .4 0 .7.1 1.1C8.1 8.2 4.7 6.3 2.4 3.5c-.4.7-.6 1.5-.6 2.3 0 1.6.8 3 2.1 3.9-.8 0-1.5-.2-2.1-.6v.1c0 2.3 1.6 4.1 3.7 4.6-.4.1-.8.2-1.2.2-.3 0-.6 0-.9-.1.6 1.8 2.3 3.2 4.4 3.2-1.6 1.3-3.6 2-5.8 2-.4 0-.7 0-1.1-.1 2.1 1.3 4.5 2.1 7.1 2.1 8.6 0 13.3-7.1 13.3-13.3v-.6c.9-.7 1.7-1.5 2.3-2.4z" fill="#fff"/></svg></span></div>
<div class="cnt" style="left:572px;top:361px;width:69px">14</div>
<div class="trk" style="left:572px;top:374px;width:71px"></div>
<div class="bar" style="left:572px;top:374px;width:41px;background:#ee4390"><span class="bi" style="background:#dd2e7c"><svg width="8" height="8" viewBox="0 0 24 24"><rect x="4" y="4" width="16" height="16" rx="4.5" fill="none" stroke="#fff" stroke-width="2.6"/><circle cx="12" cy="12" r="3.6" fill="none" stroke="#fff" stroke-width="2.4"/></svg></span></div>
<div class="cnt" style="left:572px;top:374px;width:69px">7</div>
<div class="trk" style="left:572px;top:387px;width:71px"></div>
<div class="bar" style="left:572px;top:387px;width:24px;background:#3d87f5"><span class="bi" style="background:#2a74ea"><svg width="8" height="8" viewBox="0 0 24 24"><circle cx="12" cy="12" r="10" fill="none" stroke="#fff" stroke-width="3.4"/><path d="M13.6 21V13.4h2.4l.4-2.8h-2.8V8.9c0-.8.3-1.4 1.4-1.4h1.5V5c-.3 0-1.2-.1-2.2-.1-2.200 0-3.600 1.300-3.600 3.700v2H8.300v2.800h2.400V21z" fill="#fff"/></svg></span></div>
<div class="cnt" style="left:572px;top:387px;width:69px">3</div>
<div class="trk" style="left:572px;top:401px;width:71px"></div>
<div class="bar" style="left:572px;top:401px;width:17px;background:#ff0035"><span class="bi" style="background:#ea0030"><svg width="8" height="8" viewBox="0 0 24 24"><circle cx="12" cy="12" r="9" fill="none" stroke="#fff" stroke-width="3"/><path d="M10.5 8.5c3-.8 5 .6 5 2.600 0 2.300-2 3.600-4 2.800M11.3 10.5l-2 8" fill="none" stroke="#fff" stroke-width="2.4"/></svg></span></div>
<div class="cnt" style="left:572px;top:401px;width:69px">2</div>
<div class="dn" style="left:64px;top:427.4px">27</div>
<div class="trk" style="left:64px;top:442px;width:71px"></div>
<div class="bar" style="left:64px;top:442px;width:20px;background:#1ca8f5"><span class="bi" style="background:#0e9cef"><svg width="8" height="8" viewBox="-3 -3 30 30"><path d="M23.6 4.9c-.8.4-1.7.6-2.7.7 1-.6 1.7-1.5 2-2.6-.9.5-1.9.9-3 1.1-.9-.9-2.1-1.5-3.4-1.5-2.6 0-4.7 2.1-4.7 4.7 0 .4 0 .7.1 1.1C8.1 8.2 4.7 6.3 2.4 3.5c-.4.7-.6 1.5-.6 2.3 0 1.6.8 3 2.1 3.9-.8 0-1.5-.2-2.1-.6v.1c0 2.3 1.6 4.1 3.7 4.6-.4.1-.8.2-1.2.2-.3 0-.6 0-.9-.1.6 1.8 2.3 3.2 4.4 3.2-1.6 1.3-3.6 2-5.8 2-.4 0-.7 0-1.1-.1 2.1 1.3 4.5 2.1 7.1 2.1 8.6 0 13.3-7.1 13.3-13.3v-.6c.9-.7 1.7-1.5 2.3-2.4z" fill="#fff"/></svg></span></div>
<div class="cnt" style="left:64px;top:442px;width:69px">3</div>
<div class="trk" style="left:64px;top:455px;width:71px"></div>
<div class="bar" style="left:64px;top:455px;width:41px;background:#ee4390"><span class="bi" style="background:#dd2e7c"><svg width="8" height="8" viewBox="0 0 24 24"><rect x="4" y="4" width="16" height="16" rx="4.5" fill="none" stroke="#fff" stroke-width="2.6"/><circle cx="12" cy="12" r="3.6" fill="none" stroke="#fff" stroke-width="2.4"/></svg></span></div>
<div class="cnt" style="left:64px;top:455px;width:69px">7</div>
<div class="trk" style="left:64px;top:468px;width:71px"></div>
<div class="bar" style="left:64px;top:468px;width:48px;background:#3d87f5"><span class="bi" style="background:#2a74ea"><svg width="8" height="8" viewBox="0 0 24 24"><circle cx="12" cy="12" r="10" fill="none" stroke="#fff" stroke-width="3.4"/><path d="M13.6 21V13.4h2.4l.4-2.8h-2.8V8.9c0-.8.3-1.4 1.4-1.4h1.5V5c-.3 0-1.2-.1-2.2-.1-2.200 0-3.600 1.300-3.600 3.700v2H8.300v2.800h2.400V21z" fill="#fff"/></svg></span></div>
<div class="cnt" style="left:64px;top:468px;width:69px">10</div>
<div class="trk" style="left:64px;top:482px;width:71px"></div>
<div class="bar" style="left:64px;top:482px;width:17px;background:#ff0035"><span class="bi" style="background:#ea0030"><svg width="8" height="8" viewBox="0 0 24 24"><circle cx="12" cy="12" r="9" fill="none" stroke="#fff" stroke-width="3"/><path d="M10.5 8.5c3-.8 5 .6 5 2.600 0 2.300-2 3.600-4 2.800M11.3 10.5l-2 8" fill="none" stroke="#fff" stroke-width="2.4"/></svg></span></div>
<div class="cnt" style="left:64px;top:482px;width:69px">1</div>
<div class="dn" style="left:149px;top:427.4px">28</div>
<div class="trk" style="left:149px;top:442px;width:70px"></div>
<div class="bar" style="left:149px;top:442px;width:57px;background:#1ca8f5"><span class="bi" style="background:#0e9cef"><svg width="8" height="8" viewBox="-3 -3 30 30"><path d="M23.6 4.9c-.8.4-1.7.6-2.7.7 1-.6 1.7-1.5 2-2.6-.9.5-1.9.9-3 1.1-.9-.9-2.1-1.5-3.4-1.5-2.6 0-4.7 2.1-4.7 4.7 0 .4 0 .7.1 1.1C8.1 8.2 4.7 6.3 2.4 3.5c-.4.7-.6 1.5-.6 2.3 0 1.6.8 3 2.1 3.9-.8 0-1.5-.2-2.1-.6v.1c0 2.3 1.6 4.1 3.7 4.6-.4.1-.8.2-1.2.2-.3 0-.6 0-.9-.1.6 1.8 2.3 3.2 4.4 3.2-1.6 1.3-3.6 2-5.8 2-.4 0-.7 0-1.1-.1 2.1 1.3 4.5 2.1 7.1 2.1 8.6 0 13.3-7.1 13.3-13.3v-.6c.9-.7 1.7-1.5 2.3-2.4z" fill="#fff"/></svg></span></div>
<div class="cnt" style="left:149px;top:442px;width:68px">14</div>
<div class="trk" style="left:149px;top:455px;width:70px"></div>
<div class="bar" style="left:149px;top:455px;width:41px;background:#ee4390"><span class="bi" style="background:#dd2e7c"><svg width="8" height="8" viewBox="0 0 24 24"><rect x="4" y="4" width="16" height="16" rx="4.5" fill="none" stroke="#fff" stroke-width="2.6"/><circle cx="12" cy="12" r="3.6" fill="none" stroke="#fff" stroke-width="2.4"/></svg></span></div>
<div class="cnt" style="left:149px;top:455px;width:68px">7</div>
<div class="trk" style="left:149px;top:468px;width:70px"></div>
<div class="bar" style="left:149px;top:468px;width:24px;background:#3d87f5"><span class="bi" style="background:#2a74ea"><svg width="8" height="8" viewBox="0 0 24 24"><circle cx="12" cy="12" r="10" fill="none" stroke="#fff" stroke-width="3.4"/><path d="M13.6 21V13.4h2.4l.4-2.8h-2.8V8.9c0-.8.3-1.4 1.4-1.4h1.5V5c-.3 0-1.2-.1-2.2-.1-2.200 0-3.600 1.300-3.600 3.700v2H8.300v2.800h2.400V21z" fill="#fff"/></svg></span></div>
<div class="cnt" style="left:149px;top:468px;width:68px">3</div>
<div class="trk" style="left:149px;top:482px;width:70px"></div>
<div class="bar" style="left:149px;top:482px;width:17px;background:#ff0035"><span class="bi" style="background:#ea0030"><svg width="8" height="8" viewBox="0 0 24 24"><circle cx="12" cy="12" r="9" fill="none" stroke="#fff" stroke-width="3"/><path d="M10.5 8.5c3-.8 5 .6 5 2.600 0 2.300-2 3.600-4 2.800M11.3 10.5l-2 8" fill="none" stroke="#fff" stroke-width="2.4"/></svg></span></div>
<div class="cnt" style="left:149px;top:482px;width:68px">1</div>
<div class="dn" style="left:233px;top:427.4px">29</div>
<div class="trk" style="left:233px;top:442px;width:71px"></div>
<div class="bar" style="left:233px;top:442px;width:20px;background:#1ca8f5"><span class="bi" style="background:#0e9cef"><svg width="8" height="8" viewBox="-3 -3 30 30"><path d="M23.6 4.9c-.8.4-1.7.6-2.7.7 1-.6 1.7-1.5 2-2.6-.9.5-1.9.9-3 1.1-.9-.9-2.1-1.5-3.4-1.5-2.6 0-4.7 2.1-4.7 4.7 0 .4 0 .7.1 1.1C8.1 8.2 4.7 6.3 2.4 3.5c-.4.7-.6 1.5-.6 2.3 0 1.6.8 3 2.1 3.9-.8 0-1.5-.2-2.1-.6v.1c0 2.3 1.6 4.1 3.7 4.6-.4.1-.8.2-1.2.2-.3 0-.6 0-.9-.1.6 1.8 2.3 3.2 4.4 3.2-1.6 1.3-3.6 2-5.8 2-.4 0-.7 0-1.1-.1 2.1 1.3 4.5 2.1 7.1 2.1 8.6 0 13.3-7.1 13.3-13.3v-.6c.9-.7 1.7-1.5 2.3-2.4z" fill="#fff"/></svg></span></div>
<div class="cnt" style="left:233px;top:442px;width:69px">3</div>
<div class="trk" style="left:233px;top:455px;width:71px"></div>
<div class="bar" style="left:233px;top:455px;width:41px;background:#ee4390"><span class="bi" style="background:#dd2e7c"><svg width="8" height="8" viewBox="0 0 24 24"><rect x="4" y="4" width="16" height="16" rx="4.5" fill="none" stroke="#fff" stroke-width="2.6"/><circle cx="12" cy="12" r="3.6" fill="none" stroke="#fff" stroke-width="2.4"/></svg></span></div>
<div class="cnt" style="left:233px;top:455px;width:69px">7</div>
<div class="trk" style="left:233px;top:468px;width:71px"></div>
<div class="bar" style="left:233px;top:468px;width:48px;background:#3d87f5"><span class="bi" style="background:#2a74ea"><svg width="8" height="8" viewBox="0 0 24 24"><circle cx="12" cy="12" r="10" fill="none" stroke="#fff" stroke-width="3.4"/><path d="M13.6 21V13.4h2.4l.4-2.8h-2.8V8.9c0-.8.3-1.4 1.4-1.4h1.5V5c-.3 0-1.2-.1-2.2-.1-2.200 0-3.600 1.300-3.600 3.700v2H8.300v2.800h2.400V21z" fill="#fff"/></svg></span></div>
<div class="cnt" style="left:233px;top:468px;width:69px">10</div>
<div class="trk" style="left:233px;top:482px;width:71px"></div>
<div class="bar" style="left:233px;top:482px;width:17px;background:#ff0035"><span class="bi" style="background:#ea0030"><svg width="8" height="8" viewBox="0 0 24 24"><circle cx="12" cy="12" r="9" fill="none" stroke="#fff" stroke-width="3"/><path d="M10.5 8.5c3-.8 5 .6 5 2.600 0 2.300-2 3.600-4 2.800M11.3 10.5l-2 8" fill="none" stroke="#fff" stroke-width="2.4"/></svg></span></div>
<div class="cnt" style="left:233px;top:482px;width:69px">1</div>
<div class="dn" style="left:318px;top:427.4px">30</div>
<div class="trk" style="left:318px;top:442px;width:70px"></div>
<div class="bar" style="left:318px;top:442px;width:57px;background:#1ca8f5"><span class="bi" style="background:#0e9cef"><svg width="8" height="8" viewBox="-3 -3 30 30"><path d="M23.6 4.9c-.8.4-1.7.6-2.7.7 1-.6 1.7-1.5 2-2.6-.9.5-1.9.9-3 1.1-.9-.9-2.1-1.5-3.4-1.5-2.6 0-4.7 2.1-4.7 4.7 0 .4 0 .7.1 1.1C8.1 8.2 4.7 6.3 2.4 3.5c-.4.7-.6 1.5-.6 2.3 0 1.6.8 3 2.1 3.9-.8 0-1.5-.2-2.1-.6v.1c0 2.3 1.6 4.1 3.7 4.6-.4.1-.8.2-1.2.2-.3 0-.6 0-.9-.1.6 1.8 2.3 3.2 4.4 3.2-1.6 1.3-3.6 2-5.8 2-.4 0-.7 0-1.1-.1 2.1 1.3 4.5 2.1 7.1 2.1 8.6 0 13.3-7.1 13.3-13.3v-.6c.9-.7 1.7-1.5 2.3-2.4z" fill="#fff"/></svg></span></div>
<div class="cnt" style="left:318px;top:442px;width:68px">14</div>
<div class="trk" style="left:318px;top:455px;width:70px"></div>
<div class="bar" style="left:318px;top:455px;width:41px;background:#ee4390"><span class="bi" style="background:#dd2e7c"><svg width="8" height="8" viewBox="0 0 24 24"><rect x="4" y="4" width="16" height="16" rx="4.5" fill="none" stroke="#fff" stroke-width="2.6"/><circle cx="12" cy="12" r="3.6" fill="none" stroke="#fff" stroke-width="2.4"/></svg></span></div>
<div class="cnt" style="left:318px;top:455px;width:68px">7</div>
<div class="trk" style="left:318px;top:468px;width:70px"></div>
<div class="bar" style="left:318px;top:468px;width:24px;background:#3d87f5"><span class="bi" style="background:#2a74ea"><svg width="8" height="8" viewBox="0 0 24 24"><circle cx="12" cy="12" r="10" fill="none" stroke="#fff" stroke-width="3.4"/><path d="M13.6 21V13.4h2.4l.4-2.8h-2.8V8.9c0-.8.3-1.4 1.4-1.4h1.5V5c-.3 0-1.2-.1-2.2-.1-2.200 0-3.600 1.300-3.600 3.700v2H8.300v2.800h2.400V21z" fill="#fff"/></svg></span></div>
<div class="cnt" style="left:318px;top:468px;width:68px">3</div>
<div class="trk" style="left:318px;top:482px;width:70px"></div>
<div class="bar" style="left:318px;top:482px;width:17px;background:#ff0035"><span class="bi" style="background:#ea0030"><svg width="8" height="8" viewBox="0 0 24 24"><circle cx="12" cy="12" r="9" fill="none" stroke="#fff" stroke-width="3"/><path d="M10.5 8.5c3-.8 5 .6 5 2.600 0 2.300-2 3.600-4 2.800M11.3 10.5l-2 8" fill="none" stroke="#fff" stroke-width="2.4"/></svg></span></div>
<div class="cnt" style="left:318px;top:482px;width:68px">2</div>
<div class="dn" style="left:402px;top:427.4px">1</div>
<div class="trk" style="left:402px;top:442px;width:71px"></div>
<div class="bar" style="left:402px;top:442px;width:20px;background:#1ca8f5"><span class="bi" style="background:#0e9cef"><svg width="8" height="8" viewBox="-3 -3 30 30"><path d="M23.6 4.9c-.8.4-1.7.6-2.7.7 1-.6 1.7-1.5 2-2.6-.9.5-1.9.9-3 1.1-.9-.9-2.1-1.5-3.4-1.5-2.6 0-4.7 2.1-4.7 4.7 0 .4 0 .7.1 1.1C8.1 8.2 4.7 6.3 2.4 3.5c-.4.7-.6 1.5-.6 2.3 0 1.6.8 3 2.1 3.9-.8 0-1.5-.2-2.1-.6v.1c0 2.3 1.6 4.1 3.7 4.6-.4.1-.8.2-1.2.2-.3 0-.6 0-.9-.1.6 1.8 2.3 3.2 4.4 3.2-1.6 1.3-3.6 2-5.8 2-.4 0-.7 0-1.1-.1 2.1 1.3 4.5 2.1 7.1 2.1 8.6 0 13.3-7.1 13.3-13.3v-.6c.9-.7 1.7-1.5 2.3-2.4z" fill="#fff"/></svg></span></div>
<div class="cnt" style="left:402px;top:442px;width:69px">3</div>
<div class="trk" style="left:402px;top:455px;width:71px"></div>
<div class="bar" style="left:402px;top:455px;width:41px;background:#ee4390"><span class="bi" style="background:#dd2e7c"><svg width="8" height="8" viewBox="0 0 24 24"><rect x="4" y="4" width="16" height="16" rx="4.5" fill="none" stroke="#fff" stroke-width="2.6"/><circle cx="12" cy="12" r="3.6" fill="none" stroke="#fff" stroke-width="2.4"/></svg></span></div>
<div class="cnt" style="left:402px;top:455px;width:69px">7</div>
<div class="trk" style="left:402px;top:468px;width:71px"></div>
<div class="bar" style="left:402px;top:468px;width:48px;background:#3d87f5"><span class="bi" style="background:#2a74ea"><svg width="8" height="8" viewBox="0 0 24 24"><circle cx="12" cy="12" r="10" fill="none" stroke="#fff" stroke-width="3.4"/><path d="M13.6 21V13.4h2.4l.4-2.8h-2.8V8.9c0-.8.3-1.4 1.4-1.4h1.5V5c-.3 0-1.2-.1-2.2-.1-2.200 0-3.600 1.300-3.600 3.700v2H8.300v2.800h2.400V21z" fill="#fff"/></svg></span></div>
<div class="cnt" style="left:402px;top:468px;width:69px">10</div>
<div class="trk" style="left:402px;top:482px;width:71px"></div>
<div class="bar" style="left:402px;top:482px;width:17px;background:#ff0035"><span class="bi" style="background:#ea0030"><svg width="8" height="8" viewBox="0 0 24 24"><circle cx="12" cy="12" r="9" fill="none" stroke="#fff" stroke-width="3"/><path d="M10.5 8.5c3-.8 5 .6 5 2.600 0 2.300-2 3.600-4 2.800M11.3 10.5l-2 8" fill="none" stroke="#fff" stroke-width="2.4"/></svg></span></div>
<div class="cnt" style="left:402px;top:482px;width:69px">1</div>
<div class="dn" style="left:487px;top:427.4px">2</div>
<div class="trk" style="left:487px;top:442px;width:71px"></div>
<div class="bar" style="left:487px;top:442px;width:20px;background:#1ca8f5"><span class="bi" style="background:#0e9cef"><svg width="8" height="8" viewBox="-3 -3 30 30"><path d="M23.6 4.9c-.8.4-1.7.6-2.7.7 1-.6 1.7-1.5 2-2.6-.9.5-1.9.9-3 1.1-.9-.9-2.1-1.5-3.4-1.5-2.6 0-4.7 2.1-4.7 4.7 0 .4 0 .7.1 1.1C8.1 8.2 4.7 6.3 2.4 3.5c-.4.7-.6 1.5-.6 2.3 0 1.6.8 3 2.1 3.9-.8 0-1.5-.2-2.1-.6v.1c0 2.3 1.6 4.1 3.7 4.6-.4.1-.8.2-1.2.2-.3 0-.6 0-.9-.1.6 1.8 2.3 3.2 4.4 3.2-1.6 1.3-3.6 2-5.8 2-.4 0-.7 0-1.1-.1 2.1 1.3 4.5 2.1 7.1 2.1 8.6 0 13.3-7.1 13.3-13.3v-.6c.9-.7 1.7-1.5 2.3-2.4z" fill="#fff"/></svg></span></div>
<div class="cnt" style="left:487px;top:442px;width:69px">3</div>
<div class="trk" style="left:487px;top:455px;width:71px"></div>
<div class="bar" style="left:487px;top:455px;width:41px;background:#ee4390"><span class="bi" style="background:#dd2e7c"><svg width="8" height="8" viewBox="0 0 24 24"><rect x="4" y="4" width="16" height="16" rx="4.5" fill="none" stroke="#fff" stroke-width="2.6"/><circle cx="12" cy="12" r="3.6" fill="none" stroke="#fff" stroke-width="2.4"/></svg></span></div>
<div class="cnt" style="left:487px;top:455px;width:69px">7</div>
<div class="trk" style="left:487px;top:468px;width:71px"></div>
<div class="bar" style="left:487px;top:468px;width:48px;background:#3d87f5"><span class="bi" style="background:#2a74ea"><svg width="8" height="8" viewBox="0 0 24 24"><circle cx="12" cy="12" r="10" fill="none" stroke="#fff" stroke-width="3.4"/><path d="M13.6 21V13.4h2.4l.4-2.8h-2.8V8.9c0-.8.3-1.4 1.4-1.4h1.5V5c-.3 0-1.2-.1-2.2-.1-2.200 0-3.600 1.300-3.600 3.700v2H8.300v2.800h2.400V21z" fill="#fff"/></svg></span></div>
<div class="cnt" style="left:487px;top:468px;width:69px">10</div>
<div class="trk" style="left:487px;top:482px;width:71px"></div>
<div class="bar" style="left:487px;top:482px;width:17px;background:#ff0035"><span class="bi" style="background:#ea0030"><svg width="8" height="8" viewBox="0 0 24 24"><circle cx="12" cy="12" r="9" fill="none" stroke="#fff" stroke-width="3"/><path d="M10.5 8.5c3-.8 5 .6 5 2.600 0 2.300-2 3.600-4 2.800M11.3 10.5l-2 8" fill="none" stroke="#fff" stroke-width="2.4"/></svg></span></div>
<div class="cnt" style="left:487px;top:482px;width:69px">1</div>
<div class="dn" style="left:572px;top:427.4px">3</div>
<div class="trk" style="left:572px;top:442px;width:71px"></div>
<div class="bar" style="left:572px;top:442px;width:57px;background:#1ca8f5"><span class="bi" style="background:#0e9cef"><svg width="8" height="8" viewBox="-3 -3 30 30"><path d="M23.6 4.9c-.8.4-1.7.6-2.7.7 1-.6 1.7-1.5 2-2.6-.9.5-1.9.9-3 1.1-.9-.9-2.1-1.5-3.4-1.5-2.6 0-4.7 2.1-4.7 4.7 0 .4 0 .7.1 1.1C8.1 8.2 4.7 6.3 2.4 3.5c-.4.7-.6 1.5-.6 2.3 0 1.6.8 3 2.1 3.9-.8 0-1.5-.2-2.1-.6v.1c0 2.3 1.6 4.1 3.7 4.6-.4.1-.8.2-1.2.2-.3 0-.6 0-.9-.1.6 1.8 2.3 3.2 4.4 3.2-1.6 1.3-3.6 2-5.8 2-.4 0-.7 0-1.1-.1 2.1 1.3 4.5 2.1 7.1 2.1 8.6 0 13.3-7.1 13.3-13.3v-.6c.9-.7 1.7-1.5 2.3-2.4z" fill="#fff"/></svg></span></div>
<div class="cnt" style="left:572px;top:442px;width:69px">14</div>
<div class="trk" style="left:572px;top:455px;width:71px"></div>
<div class="bar" style="left:572px;top:455px;width:41px;background:#ee4390"><span class="bi" style="background:#dd2e7c"><svg width="8" height="8" viewBox="0 0 24 24"><rect x="4" y="4" width="16" height="16" rx="4.5" fill="none" stroke="#fff" stroke-width="2.6"/><circle cx="12" cy="12" r="3.6" fill="none" stroke="#fff" stroke-width="2.4"/></svg></span></div>
<div class="cnt" style="left:572px;top:455px;width:69px">7</div>
<div class="trk" style="left:572px;top:468px;width:71px"></div>
<div class="bar" style="left:572px;top:468px;width:24px;background:#3d87f5"><span class="bi" style="background:#2a74ea"><svg width="8" height="8" viewBox="0 0 24 24"><circle cx="12" cy="12" r="10" fill="none" stroke="#fff" stroke-width="3.4"/><path d="M13.6 21V13.4h2.4l.4-2.8h-2.8V8.9c0-.8.3-1.4 1.4-1.4h1.5V5c-.3 0-1.2-.1-2.2-.1-2.200 0-3.600 1.300-3.600 3.700v2H8.300v2.800h2.400V21z" fill="#fff"/></svg></span></div>
<div class="cnt" style="left:572px;top:468px;width:69px">3</div>
<div class="trk" style="left:572px;top:482px;width:71px"></div>
<div class="bar" style="left:572px;top:482px;width:17px;background:#ff0035"><span class="bi" style="background:#ea0030"><svg width="8" height="8" viewBox="0 0 24 24"><circle cx="12" cy="12" r="9" fill="none" stroke="#fff" stroke-width="3"/><path d="M10.5 8.5c3-.8 5 .6 5 2.600 0 2.300-2 3.600-4 2.800M11.3 10.5l-2 8" fill="none" stroke="#fff" stroke-width="2.4"/></svg></span></div>
<div class="cnt" style="left:572px;top:482px;width:69px">2</div>
</div>
<div id="pdiv"></div>
<div id="panel"></div>
<div id="phdr"></div>
<div class="abs" style="left:662px;top:6px;font-size:8.5px;color:#5c6f90">Thur</div>
<div class="abs" style="left:662px;top:16px;font-size:12px;font-weight:bold;color:#3f5680">10</div>
<div class="abs" style="left:848px;top:9px;width:18px;height:18px;border-radius:50%;background:#f8f7f5;display:flex;align-items:center;justify-content:center"><svg width="9" height="9" viewBox="0 0 9 9"><path d="M1 1l7 7M8 1L1 8" stroke="#46618f" stroke-width="1.2"/></svg></div>
<div class="line" style="left:653px;top:37px;width:221px;background:#e6e2de"></div>
<div class="abs" style="left:661px;top:44px;width:71px;height:24px;border-radius:12px;background:#cfd6e1;display:flex;align-items:center;padding-left:15px;font-size:8.5px;font-weight:bold;color:#1b2f5a"><svg width="10" height="10" viewBox="0 0 10 10" style="margin-right:5px"><circle cx="5" cy="5" r="5" fill="#0f2a5e"/><path d="M5 2.5v5M2.5 5h5" stroke="#fff" stroke-width="1.4"/></svg>Create</div>
<div class="line" style="left:653px;top:74px;width:221px"></div>
<div class="abs" style="left:874px;top:37px;width:3px;height:460px;background:#e6e4e1"></div>
<div class="abs" style="left:870px;top:82px;width:4px;height:21px;border-radius:2px;background:#c9c7c4"></div>
<div class="tlab" style="top:83px">8 AM</div>
<div class="card" style="top:96px;border-left-color:#7d5aa6"><div class="ci" style="background:#1da1f2;display:flex;align-items:center;justify-content:center"><svg width="6.5" height="6.5" viewBox="-3 -3 30 30"><path d="M23.6 4.9c-.8.4-1.7.6-2.7.7 1-.6 1.7-1.5 2-2.6-.9.5-1.9.9-3 1.1-.9-.9-2.1-1.5-3.4-1.5-2.6 0-4.7 2.1-4.7 4.7 0 .4 0 .7.1 1.1C8.1 8.2 4.7 6.3 2.4 3.5c-.4.7-.6 1.5-.6 2.3 0 1.6.8 3 2.1 3.9-.8 0-1.5-.2-2.1-.6v.1c0 2.3 1.6 4.1 3.7 4.6-.4.1-.8.2-1.2.2-.3 0-.6 0-.9-.1.6 1.8 2.3 3.2 4.4 3.2-1.6 1.3-3.6 2-5.8 2-.4 0-.7 0-1.1-.1 2.1 1.3 4.5 2.1 7.1 2.1 8.6 0 13.3-7.1 13.3-13.3v-.6c.9-.7 1.7-1.5 2.3-2.4z" fill="#fff"/></svg></div><div class="nm">haywarduniversity</div><div class="tm">8:00AM</div><div class="tx" style="left:42.5px">Markets: Ups and downs seen</div><svg style="position:absolute;left:3px;top:32px" width="8" height="7" viewBox="0 0 8 7"><rect x=".6" y=".6" width="6.8" height="5.8" rx="1" fill="none" stroke="#7d5aa6" stroke-width="1.2"/><rect x=".5" y=".5" width="7" height="2.2" fill="#7d5aa6"/></svg><svg style="position:absolute;left:12px;top:31.5px" width="8" height="8" viewBox="0 0 8 8"><rect x=".6" y=".6" width="6.8" height="6.8" rx="1" fill="#e8e8e8" stroke="#666" stroke-width="1.2"/><path d="M2 6l1.8-2.3 1.3 1.2.8-.7 1 1.8z" fill="#444"/></svg><svg class="im" viewBox="0 0 44 44" preserveAspectRatio="none"><use href="#photo"/></svg></div>
<div class="card" style="top:143px;border-left-color:#7d5aa6"><div class="ci" style="background:#e8407f;display:flex;align-items:center;justify-content:center"><svg width="6.5" height="6.5" viewBox="0 0 24 24"><rect x="4" y="4" width="16" height="16" rx="4.5" fill="none" stroke="#fff" stroke-width="2.6"/><circle cx="12" cy="12" r="3.6" fill="none" stroke="#fff" stroke-width="2.4"/></svg></div><div class="nm">haywarduniversity</div><div class="tm">8:00AM</div><div class="tx" style="left:42.5px">Markets: Ups and downs seen</div><svg style="position:absolute;left:3px;top:32px" width="8" height="7" viewBox="0 0 8 7"><rect x=".6" y=".6" width="6.8" height="5.8" rx="1" fill="none" stroke="#7d5aa6" stroke-width="1.2"/><rect x=".5" y=".5" width="7" height="2.2" fill="#7d5aa6"/></svg><svg style="position:absolute;left:12px;top:31.5px" width="8" height="8" viewBox="0 0 8 8"><rect x=".6" y=".6" width="6.8" height="6.8" rx="1" fill="#e8e8e8" stroke="#666" stroke-width="1.2"/><path d="M2 6l1.8-2.3 1.3 1.2.8-.7 1 1.8z" fill="#444"/></svg><svg class="im" viewBox="0 0 44 44" preserveAspectRatio="none"><use href="#photo"/></svg></div>
<div class="card" style="top:190px;border-left-color:#7d5aa6"><div class="ci" style="background:#1877f2;display:flex;align-items:center;justify-content:center"><svg width="9" height="9" viewBox="0 0 24 24"><path d="M13.5 24V13.5h3.5l.5-4h-4V7c0-1.1.4-2 2-2h2.2V1.6c-.4 0-1.7-.2-3.2-.2-3.1 0-5.2 1.900-5.200 5.400v2.7H6v4h3.5V24z" fill="#fff"/></svg></div><div class="nm">haywarduniversity</div><div class="tm">8:00AM</div><div class="tx" style="left:42.5px">Markets: Ups and downs seen</div><svg style="position:absolute;left:3px;top:32px" width="8" height="7" viewBox="0 0 8 7"><rect x=".6" y=".6" width="6.8" height="5.8" rx="1" fill="none" stroke="#7d5aa6" stroke-width="1.2"/><rect x=".5" y=".5" width="7" height="2.2" fill="#7d5aa6"/></svg><svg style="position:absolute;left:12px;top:31.5px" width="8" height="8" viewBox="0 0 8 8"><rect x=".6" y=".6" width="6.8" height="6.8" rx="1" fill="#e8e8e8" stroke="#666" stroke-width="1.2"/><path d="M2 6l1.8-2.3 1.3 1.2.8-.7 1 1.8z" fill="#444"/></svg><svg class="im" viewBox="0 0 44 44" preserveAspectRatio="none"><use href="#photo"/></svg></div>
<div class="line" style="left:653px;top:240px;width:221px"></div>
<div class="tlab" style="top:254px">9 AM</div>
<div class="abs" style="left:663px;top:266px;width:201px;height:32px;background:#ece9f1;border:2px dotted #a08ad0"></div>
<div class="abs" style="left:669px;top:272px;font-size:8.2px;font-weight:bold;color:#3a6ea5;line-height:11px">Recommended:<br>9:00AM</div>
<div class="line" style="left:653px;top:304px;width:221px"></div>
<div class="tlab" style="top:314px">10 AM</div>
<div class="card" style="top:327px;border-left-color:#f5b800"><div class="ci" style="background:#1da1f2;display:flex;align-items:center;justify-content:center"><svg width="6.5" height="6.5" viewBox="-3 -3 30 30"><path d="M23.6 4.9c-.8.4-1.7.6-2.7.7 1-.6 1.7-1.5 2-2.6-.9.5-1.9.9-3 1.1-.9-.9-2.1-1.5-3.4-1.5-2.6 0-4.7 2.1-4.7 4.7 0 .4 0 .7.1 1.1C8.1 8.2 4.7 6.3 2.4 3.5c-.4.7-.6 1.5-.6 2.3 0 1.6.8 3 2.1 3.9-.8 0-1.5-.2-2.1-.6v.1c0 2.3 1.6 4.1 3.7 4.6-.4.1-.8.2-1.2.2-.3 0-.6 0-.9-.1.6 1.8 2.3 3.2 4.4 3.2-1.6 1.3-3.6 2-5.8 2-.4 0-.7 0-1.1-.1 2.1 1.3 4.5 2.1 7.1 2.1 8.6 0 13.3-7.1 13.3-13.3v-.6c.9-.7 1.7-1.5 2.3-2.4z" fill="#fff"/></svg></div><div class="nm">haywarduniversity</div><div class="tm">1:00PM</div><div class="tx" style="left:42.5px">Markets: Ups and downs seen</div><svg style="position:absolute;left:3px;top:31.5px" width="8" height="8" viewBox="0 0 8 8"><rect x=".6" y=".6" width="6.8" height="6.8" rx="1" fill="#e8e8e8" stroke="#666" stroke-width="1.2"/><path d="M2 6l1.8-2.3 1.3 1.2.8-.7 1 1.8z" fill="#444"/></svg><svg style="position:absolute;left:12px;top:32px" width="6" height="7" viewBox="0 0 6 7"><path d="M.5.5h5M.5 6.5h5M1 .5c0 2 3.5 2 3.5 3S1 4.5 1 6.5M5 .5c0 2-3.5 2-3.5 3S5 4.5 5 6.5" fill="none" stroke="#f0b400" stroke-width="1"/></svg><svg class="im" viewBox="0 0 44 44" preserveAspectRatio="none"><use href="#photo"/></svg></div>
<div class="line" style="left:653px;top:377px;width:221px"></div>
<div class="tlab" style="top:386px">11 AM</div>
<div class="card" style="top:399px;border-left-color:#7d5aa6"><div class="ci" style="background:#1da1f2;display:flex;align-items:center;justify-content:center"><svg width="6.5" height="6.5" viewBox="-3 -3 30 30"><path d="M23.6 4.9c-.8.4-1.7.6-2.7.7 1-.6 1.7-1.5 2-2.6-.9.5-1.9.9-3 1.1-.9-.9-2.1-1.5-3.4-1.5-2.6 0-4.7 2.1-4.7 4.7 0 .4 0 .7.1 1.1C8.1 8.2 4.7 6.3 2.4 3.5c-.4.7-.6 1.5-.6 2.3 0 1.6.8 3 2.1 3.9-.8 0-1.5-.2-2.1-.6v.1c0 2.3 1.6 4.1 3.7 4.6-.4.1-.8.2-1.2.2-.3 0-.6 0-.9-.1.6 1.8 2.3 3.2 4.4 3.2-1.6 1.3-3.6 2-5.8 2-.4 0-.7 0-1.1-.1 2.1 1.3 4.5 2.1 7.1 2.1 8.6 0 13.3-7.1 13.3-13.3v-.6c.9-.7 1.7-1.5 2.3-2.4z" fill="#fff"/></svg></div><div class="nm">haywarduniversity</div><div class="tm">11:00AM</div><div class="tx" style="left:42.5px">Markets: Ups and downs seen</div><svg style="position:absolute;left:3px;top:32px" width="8" height="7" viewBox="0 0 8 7"><rect x=".6" y=".6" width="6.8" height="5.8" rx="1" fill="none" stroke="#7d5aa6" stroke-width="1.2"/><rect x=".5" y=".5" width="7" height="2.2" fill="#7d5aa6"/></svg><svg style="position:absolute;left:12px;top:31.5px" width="8" height="8" viewBox="0 0 8 8"><rect x=".6" y=".6" width="6.8" height="6.8" rx="1" fill="#e8e8e8" stroke="#666" stroke-width="1.2"/><path d="M2 6l1.8-2.3 1.3 1.2.8-.7 1 1.8z" fill="#444"/></svg><svg class="im" viewBox="0 0 44 44" preserveAspectRatio="none"><use href="#photo"/></svg></div>
<div class="card" style="top:446px;border-left-color:#7d5aa6"><div class="ci" style="background:#e8407f;display:flex;align-items:center;justify-content:center"><svg width="6.5" height="6.5" viewBox="0 0 24 24"><rect x="4" y="4" width="16" height="16" rx="4.5" fill="none" stroke="#fff" stroke-width="2.6"/><circle cx="12" cy="12" r="3.6" fill="none" stroke="#fff" stroke-width="2.4"/></svg></div><div class="nm">haywarduniversity</div><div class="tm">11:00AM</div><div class="tx" style="left:42.5px">Markets: Ups and downs seen</div><svg style="position:absolute;left:3px;top:32px" width="8" height="7" viewBox="0 0 8 7"><rect x=".6" y=".6" width="6.8" height="5.8" rx="1" fill="none" stroke="#7d5aa6" stroke-width="1.2"/><rect x=".5" y=".5" width="7" height="2.2" fill="#7d5aa6"/></svg><svg style="position:absolute;left:12px;top:31.5px" width="8" height="8" viewBox="0 0 8 8"><rect x=".6" y=".6" width="6.8" height="6.8" rx="1" fill="#e8e8e8" stroke="#666" stroke-width="1.2"/><path d="M2 6l1.8-2.3 1.3 1.2.8-.7 1 1.8z" fill="#444"/></svg><svg class="im" viewBox="0 0 44 44" preserveAspectRatio="none"><use href="#photo"/></svg></div>
<div class="card" style="top:493px;border-left-color:#7d5aa6"><div class="ci" style="background:#1da1f2;display:flex;align-items:center;justify-content:center"><svg width="6.5" height="6.5" viewBox="-3 -3 30 30"><path d="M23.6 4.9c-.8.4-1.7.6-2.7.7 1-.6 1.7-1.5 2-2.6-.9.5-1.9.9-3 1.1-.9-.9-2.1-1.5-3.4-1.5-2.6 0-4.7 2.1-4.7 4.7 0 .4 0 .7.1 1.1C8.1 8.2 4.7 6.3 2.4 3.5c-.4.7-.6 1.5-.6 2.3 0 1.6.8 3 2.1 3.9-.8 0-1.5-.2-2.1-.6v.1c0 2.3 1.6 4.1 3.7 4.6-.4.1-.8.2-1.2.2-.3 0-.6 0-.9-.1.6 1.8 2.3 3.2 4.4 3.2-1.6 1.3-3.6 2-5.8 2-.4 0-.7 0-1.1-.1 2.1 1.3 4.5 2.1 7.1 2.1 8.6 0 13.3-7.1 13.3-13.3v-.6c.9-.7 1.7-1.5 2.3-2.4z" fill="#fff"/></svg></div><div class="nm">haywarduniversity</div><div class="tm">11:00AM</div><div class="tx" style="left:42.5px">Markets: Ups and downs seen</div><svg style="position:absolute;left:3px;top:32px" width="8" height="7" viewBox="0 0 8 7"><rect x=".6" y=".6" width="6.8" height="5.8" rx="1" fill="none" stroke="#7d5aa6" stroke-width="1.2"/><rect x=".5" y=".5" width="7" height="2.2" fill="#7d5aa6"/></svg><svg style="position:absolute;left:12px;top:31.5px" width="8" height="8" viewBox="0 0 8 8"><rect x=".6" y=".6" width="6.8" height="6.8" rx="1" fill="#e8e8e8" stroke="#666" stroke-width="1.2"/><path d="M2 6l1.8-2.3 1.3 1.2.8-.7 1 1.8z" fill="#444"/></svg><svg class="im" viewBox="0 0 44 44" preserveAspectRatio="none"><use href="#photo"/></svg></div>
</div></body></html>
